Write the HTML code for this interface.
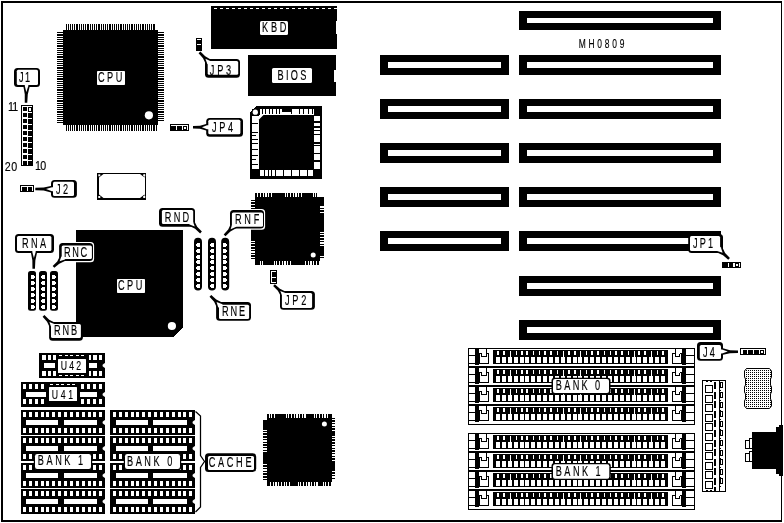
<!DOCTYPE html>
<html>
<head>
<meta charset="utf-8">
<title>MH0809 motherboard layout</title>
<style>
html, body { margin: 0; padding: 0; background: #fff; }
body { width: 784px; height: 523px; overflow: hidden; font-family: "Liberation Sans", sans-serif; }
svg { display: block; will-change: transform; }
svg text { font-family: "Liberation Sans", sans-serif; }
</style>
</head>
<body>
<svg width="784" height="523" viewBox="0 0 784 523" shape-rendering="crispEdges">
<rect x="0" y="0" width="784" height="523" fill="#fff"/>
<rect x="1" y="1" width="781" height="2" fill="#000"/>
<rect x="1" y="1" width="2" height="521" fill="#000"/>
<rect x="1" y="520" width="781" height="2" fill="#000"/>
<rect x="781" y="1" width="1" height="521" fill="#000"/>
<rect x="380" y="55" width="129" height="20" fill="#000"/>
<rect x="388" y="62" width="113" height="6" fill="#fff"/>
<rect x="380" y="99" width="129" height="20" fill="#000"/>
<rect x="388" y="106" width="113" height="6" fill="#fff"/>
<rect x="380" y="143" width="129" height="20" fill="#000"/>
<rect x="388" y="150" width="113" height="6" fill="#fff"/>
<rect x="380" y="187" width="129" height="20" fill="#000"/>
<rect x="388" y="194" width="113" height="6" fill="#fff"/>
<rect x="380" y="231" width="129" height="20" fill="#000"/>
<rect x="388" y="238" width="113" height="6" fill="#fff"/>
<rect x="519" y="11" width="202" height="19" fill="#000"/>
<rect x="527" y="18" width="186" height="5" fill="#fff"/>
<rect x="519" y="55" width="202" height="20" fill="#000"/>
<rect x="527" y="62" width="186" height="6" fill="#fff"/>
<rect x="519" y="99" width="202" height="20" fill="#000"/>
<rect x="527" y="106" width="186" height="6" fill="#fff"/>
<rect x="519" y="143" width="202" height="20" fill="#000"/>
<rect x="527" y="150" width="186" height="6" fill="#fff"/>
<rect x="519" y="187" width="202" height="20" fill="#000"/>
<rect x="527" y="194" width="186" height="6" fill="#fff"/>
<rect x="519" y="231" width="202" height="20" fill="#000"/>
<rect x="527" y="238" width="186" height="6" fill="#fff"/>
<rect x="519" y="276" width="202" height="20" fill="#000"/>
<rect x="527" y="283" width="186" height="6" fill="#fff"/>
<rect x="519" y="320" width="202" height="20" fill="#000"/>
<rect x="527" y="327" width="186" height="6" fill="#fff"/>
<text transform="translate(578.7,48) scale(0.66,1)" font-size="12.8" text-anchor="start" fill="#000" stroke="#000" stroke-width="0.15" textLength="69.39" lengthAdjust="spacing">MH0809</text>
<rect x="65.6" y="24" width="90" height="6" fill="#000"/>
<rect x="65.6" y="125" width="91" height="6" fill="#000"/>
<rect x="57" y="32.4" width="6" height="90.4" fill="#000"/>
<rect x="158" y="32.4" width="6" height="90" fill="#000"/>
<rect x="67" y="24" width="1" height="6" fill="#fff"/>
<rect x="69" y="24" width="1" height="6" fill="#fff"/>
<rect x="71" y="24" width="1" height="6" fill="#fff"/>
<rect x="73" y="24" width="1" height="6" fill="#fff"/>
<rect x="75" y="24" width="1" height="6" fill="#fff"/>
<rect x="78" y="24" width="1" height="6" fill="#fff"/>
<rect x="80" y="24" width="1" height="6" fill="#fff"/>
<rect x="82" y="24" width="1" height="6" fill="#fff"/>
<rect x="84" y="24" width="1" height="6" fill="#fff"/>
<rect x="86" y="24" width="1" height="6" fill="#fff"/>
<rect x="89" y="24" width="1" height="6" fill="#fff"/>
<rect x="91" y="24" width="1" height="6" fill="#fff"/>
<rect x="93" y="24" width="1" height="6" fill="#fff"/>
<rect x="95" y="24" width="1" height="6" fill="#fff"/>
<rect x="97" y="24" width="1" height="6" fill="#fff"/>
<rect x="100" y="24" width="1" height="6" fill="#fff"/>
<rect x="102" y="24" width="1" height="6" fill="#fff"/>
<rect x="104" y="24" width="1" height="6" fill="#fff"/>
<rect x="106" y="24" width="1" height="6" fill="#fff"/>
<rect x="108" y="24" width="1" height="6" fill="#fff"/>
<rect x="111" y="24" width="1" height="6" fill="#fff"/>
<rect x="113" y="24" width="1" height="6" fill="#fff"/>
<rect x="115" y="24" width="1" height="6" fill="#fff"/>
<rect x="117" y="24" width="1" height="6" fill="#fff"/>
<rect x="119" y="24" width="1" height="6" fill="#fff"/>
<rect x="122" y="24" width="1" height="6" fill="#fff"/>
<rect x="124" y="24" width="1" height="6" fill="#fff"/>
<rect x="126" y="24" width="1" height="6" fill="#fff"/>
<rect x="128" y="24" width="1" height="6" fill="#fff"/>
<rect x="130" y="24" width="1" height="6" fill="#fff"/>
<rect x="133" y="24" width="1" height="6" fill="#fff"/>
<rect x="135" y="24" width="1" height="6" fill="#fff"/>
<rect x="137" y="24" width="1" height="6" fill="#fff"/>
<rect x="139" y="24" width="1" height="6" fill="#fff"/>
<rect x="141" y="24" width="1" height="6" fill="#fff"/>
<rect x="144" y="24" width="1" height="6" fill="#fff"/>
<rect x="146" y="24" width="1" height="6" fill="#fff"/>
<rect x="148" y="24" width="1" height="6" fill="#fff"/>
<rect x="150" y="24" width="1" height="6" fill="#fff"/>
<rect x="152" y="24" width="1" height="6" fill="#fff"/>
<rect x="155" y="24" width="1" height="6" fill="#fff"/>
<rect x="67" y="125" width="1" height="6" fill="#fff"/>
<rect x="69" y="125" width="1" height="6" fill="#fff"/>
<rect x="71" y="125" width="1" height="6" fill="#fff"/>
<rect x="73" y="125" width="1" height="6" fill="#fff"/>
<rect x="75" y="125" width="1" height="6" fill="#fff"/>
<rect x="78" y="125" width="1" height="6" fill="#fff"/>
<rect x="80" y="125" width="1" height="6" fill="#fff"/>
<rect x="82" y="125" width="1" height="6" fill="#fff"/>
<rect x="84" y="125" width="1" height="6" fill="#fff"/>
<rect x="86" y="125" width="1" height="6" fill="#fff"/>
<rect x="89" y="125" width="1" height="6" fill="#fff"/>
<rect x="91" y="125" width="1" height="6" fill="#fff"/>
<rect x="93" y="125" width="1" height="6" fill="#fff"/>
<rect x="95" y="125" width="1" height="6" fill="#fff"/>
<rect x="97" y="125" width="1" height="6" fill="#fff"/>
<rect x="100" y="125" width="1" height="6" fill="#fff"/>
<rect x="102" y="125" width="1" height="6" fill="#fff"/>
<rect x="104" y="125" width="1" height="6" fill="#fff"/>
<rect x="106" y="125" width="1" height="6" fill="#fff"/>
<rect x="108" y="125" width="1" height="6" fill="#fff"/>
<rect x="111" y="125" width="1" height="6" fill="#fff"/>
<rect x="113" y="125" width="1" height="6" fill="#fff"/>
<rect x="115" y="125" width="1" height="6" fill="#fff"/>
<rect x="117" y="125" width="1" height="6" fill="#fff"/>
<rect x="119" y="125" width="1" height="6" fill="#fff"/>
<rect x="122" y="125" width="1" height="6" fill="#fff"/>
<rect x="124" y="125" width="1" height="6" fill="#fff"/>
<rect x="126" y="125" width="1" height="6" fill="#fff"/>
<rect x="128" y="125" width="1" height="6" fill="#fff"/>
<rect x="130" y="125" width="1" height="6" fill="#fff"/>
<rect x="133" y="125" width="1" height="6" fill="#fff"/>
<rect x="135" y="125" width="1" height="6" fill="#fff"/>
<rect x="137" y="125" width="1" height="6" fill="#fff"/>
<rect x="139" y="125" width="1" height="6" fill="#fff"/>
<rect x="141" y="125" width="1" height="6" fill="#fff"/>
<rect x="144" y="125" width="1" height="6" fill="#fff"/>
<rect x="146" y="125" width="1" height="6" fill="#fff"/>
<rect x="148" y="125" width="1" height="6" fill="#fff"/>
<rect x="150" y="125" width="1" height="6" fill="#fff"/>
<rect x="152" y="125" width="1" height="6" fill="#fff"/>
<rect x="155" y="125" width="1" height="6" fill="#fff"/>
<rect x="57" y="33" width="6" height="1" fill="#fff"/>
<rect x="57" y="36" width="6" height="1" fill="#fff"/>
<rect x="57" y="38" width="6" height="1" fill="#fff"/>
<rect x="57" y="40" width="6" height="1" fill="#fff"/>
<rect x="57" y="42" width="6" height="1" fill="#fff"/>
<rect x="57" y="44" width="6" height="1" fill="#fff"/>
<rect x="57" y="47" width="6" height="1" fill="#fff"/>
<rect x="57" y="49" width="6" height="1" fill="#fff"/>
<rect x="57" y="51" width="6" height="1" fill="#fff"/>
<rect x="57" y="53" width="6" height="1" fill="#fff"/>
<rect x="57" y="55" width="6" height="1" fill="#fff"/>
<rect x="57" y="58" width="6" height="1" fill="#fff"/>
<rect x="57" y="60" width="6" height="1" fill="#fff"/>
<rect x="57" y="62" width="6" height="1" fill="#fff"/>
<rect x="57" y="64" width="6" height="1" fill="#fff"/>
<rect x="57" y="66" width="6" height="1" fill="#fff"/>
<rect x="57" y="69" width="6" height="1" fill="#fff"/>
<rect x="57" y="71" width="6" height="1" fill="#fff"/>
<rect x="57" y="73" width="6" height="1" fill="#fff"/>
<rect x="57" y="75" width="6" height="1" fill="#fff"/>
<rect x="57" y="77" width="6" height="1" fill="#fff"/>
<rect x="57" y="80" width="6" height="1" fill="#fff"/>
<rect x="57" y="82" width="6" height="1" fill="#fff"/>
<rect x="57" y="84" width="6" height="1" fill="#fff"/>
<rect x="57" y="86" width="6" height="1" fill="#fff"/>
<rect x="57" y="88" width="6" height="1" fill="#fff"/>
<rect x="57" y="91" width="6" height="1" fill="#fff"/>
<rect x="57" y="93" width="6" height="1" fill="#fff"/>
<rect x="57" y="95" width="6" height="1" fill="#fff"/>
<rect x="57" y="97" width="6" height="1" fill="#fff"/>
<rect x="57" y="99" width="6" height="1" fill="#fff"/>
<rect x="57" y="102" width="6" height="1" fill="#fff"/>
<rect x="57" y="104" width="6" height="1" fill="#fff"/>
<rect x="57" y="106" width="6" height="1" fill="#fff"/>
<rect x="57" y="108" width="6" height="1" fill="#fff"/>
<rect x="57" y="110" width="6" height="1" fill="#fff"/>
<rect x="57" y="113" width="6" height="1" fill="#fff"/>
<rect x="57" y="115" width="6" height="1" fill="#fff"/>
<rect x="57" y="117" width="6" height="1" fill="#fff"/>
<rect x="57" y="119" width="6" height="1" fill="#fff"/>
<rect x="57" y="121" width="6" height="1" fill="#fff"/>
<rect x="158" y="33" width="6" height="1" fill="#fff"/>
<rect x="158" y="36" width="6" height="1" fill="#fff"/>
<rect x="158" y="38" width="6" height="1" fill="#fff"/>
<rect x="158" y="40" width="6" height="1" fill="#fff"/>
<rect x="158" y="42" width="6" height="1" fill="#fff"/>
<rect x="158" y="44" width="6" height="1" fill="#fff"/>
<rect x="158" y="47" width="6" height="1" fill="#fff"/>
<rect x="158" y="49" width="6" height="1" fill="#fff"/>
<rect x="158" y="51" width="6" height="1" fill="#fff"/>
<rect x="158" y="53" width="6" height="1" fill="#fff"/>
<rect x="158" y="55" width="6" height="1" fill="#fff"/>
<rect x="158" y="58" width="6" height="1" fill="#fff"/>
<rect x="158" y="60" width="6" height="1" fill="#fff"/>
<rect x="158" y="62" width="6" height="1" fill="#fff"/>
<rect x="158" y="64" width="6" height="1" fill="#fff"/>
<rect x="158" y="66" width="6" height="1" fill="#fff"/>
<rect x="158" y="69" width="6" height="1" fill="#fff"/>
<rect x="158" y="71" width="6" height="1" fill="#fff"/>
<rect x="158" y="73" width="6" height="1" fill="#fff"/>
<rect x="158" y="75" width="6" height="1" fill="#fff"/>
<rect x="158" y="77" width="6" height="1" fill="#fff"/>
<rect x="158" y="80" width="6" height="1" fill="#fff"/>
<rect x="158" y="82" width="6" height="1" fill="#fff"/>
<rect x="158" y="84" width="6" height="1" fill="#fff"/>
<rect x="158" y="86" width="6" height="1" fill="#fff"/>
<rect x="158" y="88" width="6" height="1" fill="#fff"/>
<rect x="158" y="91" width="6" height="1" fill="#fff"/>
<rect x="158" y="93" width="6" height="1" fill="#fff"/>
<rect x="158" y="95" width="6" height="1" fill="#fff"/>
<rect x="158" y="97" width="6" height="1" fill="#fff"/>
<rect x="158" y="99" width="6" height="1" fill="#fff"/>
<rect x="158" y="102" width="6" height="1" fill="#fff"/>
<rect x="158" y="104" width="6" height="1" fill="#fff"/>
<rect x="158" y="106" width="6" height="1" fill="#fff"/>
<rect x="158" y="108" width="6" height="1" fill="#fff"/>
<rect x="158" y="110" width="6" height="1" fill="#fff"/>
<rect x="158" y="113" width="6" height="1" fill="#fff"/>
<rect x="158" y="115" width="6" height="1" fill="#fff"/>
<rect x="158" y="117" width="6" height="1" fill="#fff"/>
<rect x="158" y="119" width="6" height="1" fill="#fff"/>
<rect x="158" y="121" width="6" height="1" fill="#fff"/>
<rect x="63" y="30" width="95" height="95" fill="#000"/>
<circle cx="148.9" cy="115.3" r="4.1" fill="#fff" shape-rendering="geometricPrecision"/>
<rect x="97" y="71" width="28" height="14" rx="0.8" fill="#fff" shape-rendering="geometricPrecision"/>
<text transform="translate(98,82) scale(0.66,1)" font-size="13.9" text-anchor="start" fill="#000" stroke="#000" stroke-width="0.15" textLength="36.82" lengthAdjust="spacing">CPU</text>
<polygon points="76,230 183,230 183,327.5 174,337 76,337" fill="#000"/>
<circle cx="171.9" cy="326" r="4.1" fill="#fff" shape-rendering="geometricPrecision"/>
<rect x="117" y="279" width="28" height="14" rx="0.8" fill="#fff" shape-rendering="geometricPrecision"/>
<text transform="translate(118,290) scale(0.66,1)" font-size="13.9" text-anchor="start" fill="#000" stroke="#000" stroke-width="0.15" textLength="36.82" lengthAdjust="spacing">CPU</text>
<rect x="211" y="6" width="126" height="43" fill="#000"/>
<rect x="214" y="8" width="3" height="1" fill="#fff"/>
<rect x="220" y="8" width="3" height="1" fill="#fff"/>
<rect x="226" y="8" width="3" height="1" fill="#fff"/>
<rect x="232" y="8" width="3" height="1" fill="#fff"/>
<rect x="238" y="8" width="3" height="1" fill="#fff"/>
<rect x="244" y="8" width="3" height="1" fill="#fff"/>
<rect x="250" y="8" width="3" height="1" fill="#fff"/>
<rect x="256" y="8" width="3" height="1" fill="#fff"/>
<rect x="262" y="8" width="3" height="1" fill="#fff"/>
<rect x="268" y="8" width="3" height="1" fill="#fff"/>
<rect x="274" y="8" width="3" height="1" fill="#fff"/>
<rect x="280" y="8" width="3" height="1" fill="#fff"/>
<rect x="286" y="8" width="3" height="1" fill="#fff"/>
<rect x="292" y="8" width="3" height="1" fill="#fff"/>
<rect x="298" y="8" width="3" height="1" fill="#fff"/>
<rect x="304" y="8" width="3" height="1" fill="#fff"/>
<rect x="310" y="8" width="3" height="1" fill="#fff"/>
<rect x="316" y="8" width="3" height="1" fill="#fff"/>
<rect x="322" y="8" width="3" height="1" fill="#fff"/>
<rect x="328" y="8" width="3" height="1" fill="#fff"/>
<rect x="334" y="8" width="3" height="1" fill="#fff"/>
<rect x="336" y="21" width="1" height="13" fill="#fff"/>
<rect x="260" y="21" width="28" height="14" rx="1.5" fill="#fff" shape-rendering="geometricPrecision"/>
<text transform="translate(262,32) scale(0.66,1)" font-size="13.9" text-anchor="start" fill="#000" stroke="#000" stroke-width="0.15" textLength="36.97" lengthAdjust="spacing">KBD</text>
<rect x="248" y="55" width="88" height="41" fill="#000"/>
<rect x="334" y="70" width="2" height="12" fill="#fff"/>
<rect x="272" y="68" width="40" height="15" rx="1.5" fill="#fff" shape-rendering="geometricPrecision"/>
<text transform="translate(277.6,80) scale(0.66,1)" font-size="13.9" text-anchor="start" fill="#000" stroke="#000" stroke-width="0.15" textLength="43.64" lengthAdjust="spacing">BIOS</text>
<polygon points="256,106 322,106 322,179 250,179 250,112" fill="#000"/>
<rect x="260" y="109" width="54" height="6" fill="#fff"/>
<rect x="260" y="170" width="53" height="6" fill="#fff"/>
<rect x="252" y="116" width="7" height="53" fill="#fff"/>
<rect x="314" y="116" width="6" height="53" fill="#fff"/>
<rect x="261.5" y="109" width="1" height="4.5" fill="#000"/>
<rect x="265" y="109" width="1" height="4.5" fill="#000"/>
<rect x="268.5" y="109" width="1" height="4.5" fill="#000"/>
<rect x="272" y="109" width="1" height="4.5" fill="#000"/>
<rect x="275.5" y="109" width="1" height="4.5" fill="#000"/>
<rect x="279" y="109" width="1" height="4.5" fill="#000"/>
<rect x="291" y="109" width="1" height="4.5" fill="#000"/>
<rect x="299" y="109" width="1" height="4.5" fill="#000"/>
<rect x="303" y="109" width="1" height="4.5" fill="#000"/>
<rect x="307.5" y="109" width="1" height="4.5" fill="#000"/>
<rect x="311.5" y="109" width="1" height="4.5" fill="#000"/>
<rect x="282" y="109" width="10" height="2.5" fill="#000"/>
<rect x="291" y="112" width="1" height="1.5" fill="#000"/>
<rect x="264" y="170" width="1" height="6" fill="#000"/>
<rect x="268" y="170" width="1" height="6" fill="#000"/>
<rect x="271" y="170" width="1" height="6" fill="#000"/>
<rect x="275" y="170" width="1" height="6" fill="#000"/>
<rect x="283" y="170" width="1" height="6" fill="#000"/>
<rect x="291" y="170" width="1" height="6" fill="#000"/>
<rect x="299" y="170" width="1" height="6" fill="#000"/>
<rect x="307" y="170" width="1" height="6" fill="#000"/>
<rect x="252" y="123" width="6" height="1" fill="#000"/>
<rect x="252" y="131.5" width="6" height="1" fill="#000"/>
<rect x="252" y="134.5" width="3.5" height="1" fill="#000"/>
<rect x="252" y="139" width="6" height="1" fill="#000"/>
<rect x="252" y="143" width="6" height="1" fill="#000"/>
<rect x="252" y="149" width="6" height="1" fill="#000"/>
<rect x="252" y="155" width="6" height="1" fill="#000"/>
<rect x="252" y="159" width="4" height="1" fill="#000"/>
<rect x="252" y="164" width="6" height="1" fill="#000"/>
<rect x="314" y="121" width="6" height="1.5" fill="#000"/>
<rect x="314" y="126" width="6" height="1.5" fill="#000"/>
<rect x="314" y="129.5" width="6" height="1" fill="#000"/>
<rect x="314" y="134" width="6" height="1" fill="#000"/>
<rect x="314" y="142" width="6" height="1.5" fill="#000"/>
<rect x="314" y="145" width="6" height="1" fill="#000"/>
<rect x="314" y="153" width="6" height="1" fill="#000"/>
<rect x="314" y="160" width="6" height="1.5" fill="#000"/>
<polygon points="259,115 265,115 259,121" fill="#fff"/>
<polygon points="259,119.5 263.5,115 314,115 314,170 259,170" fill="#000" shape-rendering="geometricPrecision"/>
<rect x="252" y="109" width="7" height="7" fill="#000"/>
<circle cx="255.3" cy="112.2" r="2.6" fill="#fff" shape-rendering="geometricPrecision"/>
<rect x="251" y="193" width="73" height="72" fill="#000"/>
<rect x="251" y="193" width="4" height="4" fill="#fff"/>
<rect x="320" y="193" width="4" height="4" fill="#fff"/>
<rect x="251" y="261" width="4" height="4" fill="#fff"/>
<rect x="320" y="261" width="4" height="4" fill="#fff"/>
<rect x="251" y="197" width="4" height="2.5" fill="#fff"/>
<rect x="251" y="259" width="4" height="2" fill="#fff"/>
<rect x="320" y="259" width="4" height="2" fill="#fff"/>
<rect x="257.2" y="193" width="1.2" height="4" fill="#fff"/>
<rect x="259.9" y="193" width="1.2" height="4" fill="#fff"/>
<rect x="262.6" y="193" width="1.2" height="4" fill="#fff"/>
<rect x="265.3" y="193" width="1.2" height="4" fill="#fff"/>
<rect x="268" y="193" width="1.2" height="4" fill="#fff"/>
<rect x="270.7" y="193" width="1.2" height="4" fill="#fff"/>
<rect x="284.5" y="193" width="1.2" height="4" fill="#fff"/>
<rect x="287.2" y="193" width="1.2" height="4" fill="#fff"/>
<rect x="289.9" y="193" width="1.2" height="4" fill="#fff"/>
<rect x="292.6" y="193" width="1.2" height="4" fill="#fff"/>
<rect x="295.3" y="193" width="1.2" height="4" fill="#fff"/>
<rect x="298" y="193" width="1.2" height="4" fill="#fff"/>
<rect x="300.7" y="193" width="1.2" height="4" fill="#fff"/>
<rect x="312.5" y="193" width="1.2" height="4" fill="#fff"/>
<rect x="315.2" y="193" width="1.2" height="4" fill="#fff"/>
<rect x="259.5" y="261" width="1.2" height="4" fill="#fff"/>
<rect x="262.2" y="261" width="1.2" height="4" fill="#fff"/>
<rect x="273.5" y="261" width="1.2" height="4" fill="#fff"/>
<rect x="276.2" y="261" width="1.2" height="4" fill="#fff"/>
<rect x="278.9" y="261" width="1.2" height="4" fill="#fff"/>
<rect x="281.6" y="261" width="1.2" height="4" fill="#fff"/>
<rect x="284.3" y="261" width="1.2" height="4" fill="#fff"/>
<rect x="287" y="261" width="1.2" height="4" fill="#fff"/>
<rect x="289.7" y="261" width="1.2" height="4" fill="#fff"/>
<rect x="305" y="261" width="1.2" height="4" fill="#fff"/>
<rect x="307.7" y="261" width="1.2" height="4" fill="#fff"/>
<rect x="310.4" y="261" width="1.2" height="4" fill="#fff"/>
<rect x="313.1" y="261" width="1.2" height="4" fill="#fff"/>
<rect x="315.8" y="261" width="1.2" height="4" fill="#fff"/>
<rect x="318.5" y="261" width="1.2" height="4" fill="#fff"/>
<rect x="251" y="201.2" width="4" height="1.2" fill="#fff"/>
<rect x="251" y="203.9" width="4" height="1.2" fill="#fff"/>
<rect x="251" y="206.6" width="4" height="1.2" fill="#fff"/>
<rect x="251" y="209.3" width="4" height="1.2" fill="#fff"/>
<rect x="251" y="240.5" width="4" height="1.2" fill="#fff"/>
<rect x="251" y="243.2" width="4" height="1.2" fill="#fff"/>
<rect x="251" y="245.9" width="4" height="1.2" fill="#fff"/>
<rect x="251" y="248.6" width="4" height="1.2" fill="#fff"/>
<rect x="251" y="251.3" width="4" height="1.2" fill="#fff"/>
<rect x="251" y="254" width="4" height="1.2" fill="#fff"/>
<rect x="251" y="256.7" width="4" height="1.2" fill="#fff"/>
<rect x="320" y="206.3" width="4" height="1.2" fill="#fff"/>
<rect x="320" y="209" width="4" height="1.2" fill="#fff"/>
<rect x="320" y="211.7" width="4" height="1.2" fill="#fff"/>
<rect x="320" y="231.5" width="4" height="1.2" fill="#fff"/>
<rect x="320" y="234.2" width="4" height="1.2" fill="#fff"/>
<rect x="320" y="236.9" width="4" height="1.2" fill="#fff"/>
<rect x="320" y="239.6" width="4" height="1.2" fill="#fff"/>
<rect x="320" y="242.3" width="4" height="1.2" fill="#fff"/>
<rect x="320" y="245" width="4" height="1.2" fill="#fff"/>
<rect x="320" y="255.5" width="4" height="1.2" fill="#fff"/>
<rect x="320" y="258.2" width="4" height="1.2" fill="#fff"/>
<circle cx="313.2" cy="255" r="2.5" fill="#fff" shape-rendering="geometricPrecision"/>
<rect x="316.5" y="193" width="3.5" height="4" fill="#fff"/>
<rect x="263" y="414" width="72.4" height="71.6" fill="#000"/>
<rect x="263" y="414" width="3.6" height="3.6" fill="#fff"/>
<rect x="331.8" y="414" width="3.6" height="3.6" fill="#fff"/>
<rect x="263" y="482" width="3.6" height="3.6" fill="#fff"/>
<rect x="331.8" y="482" width="3.6" height="3.6" fill="#fff"/>
<rect x="263" y="417.6" width="3.6" height="2.5" fill="#fff"/>
<rect x="263" y="480" width="3.6" height="2" fill="#fff"/>
<rect x="331.8" y="480" width="3.6" height="2" fill="#fff"/>
<rect x="268.5" y="414" width="1.2" height="3.6" fill="#fff"/>
<rect x="271.2" y="414" width="1.2" height="3.6" fill="#fff"/>
<rect x="273.9" y="414" width="1.2" height="3.6" fill="#fff"/>
<rect x="285.5" y="414" width="1.2" height="3.6" fill="#fff"/>
<rect x="288.2" y="414" width="1.2" height="3.6" fill="#fff"/>
<rect x="290.9" y="414" width="1.2" height="3.6" fill="#fff"/>
<rect x="293.6" y="414" width="1.2" height="3.6" fill="#fff"/>
<rect x="296.3" y="414" width="1.2" height="3.6" fill="#fff"/>
<rect x="299" y="414" width="1.2" height="3.6" fill="#fff"/>
<rect x="301.7" y="414" width="1.2" height="3.6" fill="#fff"/>
<rect x="304.4" y="414" width="1.2" height="3.6" fill="#fff"/>
<rect x="313.5" y="414" width="1.2" height="3.6" fill="#fff"/>
<rect x="316.2" y="414" width="1.2" height="3.6" fill="#fff"/>
<rect x="318.9" y="414" width="1.2" height="3.6" fill="#fff"/>
<rect x="321.6" y="414" width="1.2" height="3.6" fill="#fff"/>
<rect x="324.3" y="414" width="1.2" height="3.6" fill="#fff"/>
<rect x="327" y="414" width="1.2" height="3.6" fill="#fff"/>
<rect x="270" y="482" width="1.2" height="3.6" fill="#fff"/>
<rect x="272.7" y="482" width="1.2" height="3.6" fill="#fff"/>
<rect x="275.4" y="482" width="1.2" height="3.6" fill="#fff"/>
<rect x="278.1" y="482" width="1.2" height="3.6" fill="#fff"/>
<rect x="280.8" y="482" width="1.2" height="3.6" fill="#fff"/>
<rect x="283.5" y="482" width="1.2" height="3.6" fill="#fff"/>
<rect x="286.2" y="482" width="1.2" height="3.6" fill="#fff"/>
<rect x="288.9" y="482" width="1.2" height="3.6" fill="#fff"/>
<rect x="297.5" y="482" width="1.2" height="3.6" fill="#fff"/>
<rect x="300.2" y="482" width="1.2" height="3.6" fill="#fff"/>
<rect x="302.9" y="482" width="1.2" height="3.6" fill="#fff"/>
<rect x="305.6" y="482" width="1.2" height="3.6" fill="#fff"/>
<rect x="308.3" y="482" width="1.2" height="3.6" fill="#fff"/>
<rect x="311" y="482" width="1.2" height="3.6" fill="#fff"/>
<rect x="313.7" y="482" width="1.2" height="3.6" fill="#fff"/>
<rect x="316.4" y="482" width="1.2" height="3.6" fill="#fff"/>
<rect x="322.5" y="482" width="1.2" height="3.6" fill="#fff"/>
<rect x="325.2" y="482" width="1.2" height="3.6" fill="#fff"/>
<rect x="327.9" y="482" width="1.2" height="3.6" fill="#fff"/>
<rect x="330.6" y="482" width="1.2" height="3.6" fill="#fff"/>
<rect x="263" y="429.5" width="3.6" height="1.2" fill="#fff"/>
<rect x="263" y="432.2" width="3.6" height="1.2" fill="#fff"/>
<rect x="263" y="434.9" width="3.6" height="1.2" fill="#fff"/>
<rect x="263" y="437.6" width="3.6" height="1.2" fill="#fff"/>
<rect x="263" y="440.3" width="3.6" height="1.2" fill="#fff"/>
<rect x="263" y="443" width="3.6" height="1.2" fill="#fff"/>
<rect x="263" y="445.7" width="3.6" height="1.2" fill="#fff"/>
<rect x="263" y="448.4" width="3.6" height="1.2" fill="#fff"/>
<rect x="263" y="451.1" width="3.6" height="1.2" fill="#fff"/>
<rect x="263" y="464" width="3.6" height="1.2" fill="#fff"/>
<rect x="263" y="466.7" width="3.6" height="1.2" fill="#fff"/>
<rect x="263" y="469.4" width="3.6" height="1.2" fill="#fff"/>
<rect x="263" y="472.1" width="3.6" height="1.2" fill="#fff"/>
<rect x="263" y="474.8" width="3.6" height="1.2" fill="#fff"/>
<rect x="263" y="477.5" width="3.6" height="1.2" fill="#fff"/>
<rect x="331.8" y="419" width="3.6" height="1.2" fill="#fff"/>
<rect x="331.8" y="421.7" width="3.6" height="1.2" fill="#fff"/>
<rect x="331.8" y="424.4" width="3.6" height="1.2" fill="#fff"/>
<rect x="331.8" y="427.1" width="3.6" height="1.2" fill="#fff"/>
<rect x="331.8" y="429.8" width="3.6" height="1.2" fill="#fff"/>
<rect x="331.8" y="435.5" width="3.6" height="1.2" fill="#fff"/>
<rect x="331.8" y="438.2" width="3.6" height="1.2" fill="#fff"/>
<rect x="331.8" y="440.9" width="3.6" height="1.2" fill="#fff"/>
<rect x="331.8" y="443.6" width="3.6" height="1.2" fill="#fff"/>
<rect x="331.8" y="446.3" width="3.6" height="1.2" fill="#fff"/>
<rect x="331.8" y="449" width="3.6" height="1.2" fill="#fff"/>
<rect x="331.8" y="451.7" width="3.6" height="1.2" fill="#fff"/>
<rect x="331.8" y="454.4" width="3.6" height="1.2" fill="#fff"/>
<rect x="331.8" y="457.1" width="3.6" height="1.2" fill="#fff"/>
<rect x="331.8" y="459.8" width="3.6" height="1.2" fill="#fff"/>
<rect x="331.8" y="471" width="3.6" height="1.2" fill="#fff"/>
<rect x="331.8" y="473.7" width="3.6" height="1.2" fill="#fff"/>
<rect x="331.8" y="476.4" width="3.6" height="1.2" fill="#fff"/>
<rect x="331.8" y="479.1" width="3.6" height="1.2" fill="#fff"/>
<circle cx="324.4" cy="424" r="2.5" fill="#fff" shape-rendering="geometricPrecision"/>
<rect x="97" y="173" width="49" height="27" fill="#000"/>
<rect x="99" y="174" width="45.5" height="24" fill="#fff"/>
<polygon points="99,174 103.5,174 99,177.5" fill="#000" shape-rendering="geometricPrecision"/>
<polygon points="144.5,174 140,174 144.5,177.5" fill="#000" shape-rendering="geometricPrecision"/>
<polygon points="99,198 103.5,198 99,194.5" fill="#000" shape-rendering="geometricPrecision"/>
<polygon points="144.5,198 140,198 144.5,194.5" fill="#000" shape-rendering="geometricPrecision"/>
<rect x="98.3" y="174.3" width="2" height="2" fill="#fff" shape-rendering="geometricPrecision"/>
<rect x="143.2" y="174.3" width="2" height="2" fill="#fff" shape-rendering="geometricPrecision"/>
<rect x="98.3" y="196" width="2" height="2" fill="#fff" shape-rendering="geometricPrecision"/>
<rect x="143.2" y="196" width="2" height="2" fill="#fff" shape-rendering="geometricPrecision"/>
<rect x="21" y="105" width="12" height="61" fill="#000"/>
<rect x="22" y="106" width="6" height="59" fill="#fff"/>
<rect x="28" y="106" width="4" height="1" fill="#fff"/>
<rect x="23" y="107" width="4" height="4" fill="#000"/>
<rect x="28" y="112" width="4" height="1" fill="#fff"/>
<rect x="23" y="113" width="4" height="4" fill="#000"/>
<rect x="28" y="118" width="4" height="1" fill="#fff"/>
<rect x="23" y="119" width="4" height="4" fill="#000"/>
<rect x="28" y="124" width="4" height="1" fill="#fff"/>
<rect x="23" y="125" width="4" height="4" fill="#000"/>
<rect x="28" y="130" width="4" height="1" fill="#fff"/>
<rect x="23" y="131" width="4" height="4" fill="#000"/>
<rect x="28" y="136" width="4" height="1" fill="#fff"/>
<rect x="23" y="137" width="4" height="4" fill="#000"/>
<rect x="28" y="142" width="4" height="1" fill="#fff"/>
<rect x="23" y="143" width="4" height="4" fill="#000"/>
<rect x="28" y="148" width="4" height="1" fill="#fff"/>
<rect x="23" y="149" width="4" height="4" fill="#000"/>
<rect x="28" y="154" width="4" height="1" fill="#fff"/>
<rect x="23" y="155" width="4" height="4" fill="#000"/>
<rect x="28" y="160" width="4" height="1" fill="#fff"/>
<rect x="23" y="161" width="4" height="4" fill="#000"/>
<rect x="29" y="108" width="2" height="3" fill="#fff"/>
<text transform="translate(7.9,111) scale(0.85,1)" font-size="12.6" text-anchor="start" fill="#000" stroke="#000" stroke-width="0.15" textLength="12.12" lengthAdjust="spacing">11</text>
<text transform="translate(4.8,171) scale(0.85,1)" font-size="12.6" text-anchor="start" fill="#000" stroke="#000" stroke-width="0.15" textLength="14.59" lengthAdjust="spacing">20</text>
<text transform="translate(35,170) scale(0.85,1)" font-size="12.6" text-anchor="start" fill="#000" stroke="#000" stroke-width="0.15" textLength="13.29" lengthAdjust="spacing">10</text>
<rect x="20" y="185" width="14" height="7" fill="#000"/>
<rect x="21" y="186" width="12" height="5" fill="#fff"/>
<rect x="22" y="187" width="5" height="5" fill="#000"/>
<rect x="28" y="187" width="4" height="5" fill="#000"/>
<rect x="170" y="124" width="19" height="7" fill="#000"/>
<rect x="171" y="125" width="17" height="1" fill="#fff"/>
<rect x="176" y="125" width="1" height="5" fill="#fff"/>
<rect x="182" y="125" width="1" height="5" fill="#fff"/>
<rect x="187" y="125" width="1" height="5" fill="#fff"/>
<rect x="184" y="127" width="2" height="2" fill="#fff"/>
<rect x="196" y="38" width="6" height="13" fill="#000"/>
<rect x="197" y="39" width="4" height="1" fill="#fff"/>
<rect x="197" y="44" width="4" height="1" fill="#fff"/>
<rect x="270" y="270" width="7" height="14" fill="#000"/>
<rect x="271" y="271" width="5" height="12" fill="#fff"/>
<rect x="272" y="272" width="5" height="5" fill="#000"/>
<rect x="272" y="278" width="5" height="4" fill="#000"/>
<rect x="722" y="262" width="19" height="6" fill="#000"/>
<rect x="728" y="263" width="1" height="4" fill="#fff"/>
<rect x="733" y="263" width="2" height="4" fill="#fff"/>
<rect x="736" y="264" width="2" height="2" fill="#fff"/>
<rect x="739" y="263" width="1" height="4" fill="#fff"/>
<rect x="740" y="348" width="26" height="7" fill="#000"/>
<rect x="741" y="349" width="24" height="5" fill="#fff"/>
<rect x="743" y="350" width="4" height="5" fill="#000"/>
<rect x="748" y="350" width="5" height="5" fill="#000"/>
<rect x="754" y="350" width="5" height="5" fill="#000"/>
<rect x="760" y="350" width="4" height="5" fill="#000"/>
<rect x="761" y="351" width="2" height="2" fill="#fff"/>
<rect x="28" y="271" width="8" height="39.7" rx="2.5" fill="#000" shape-rendering="geometricPrecision"/>
<rect x="31" y="275" width="4" height="4" fill="#fff"/>
<rect x="34" y="275" width="1" height="1" fill="#000"/>
<rect x="34" y="278" width="1" height="1" fill="#000"/>
<rect x="31" y="281" width="4" height="4" fill="#fff"/>
<rect x="34" y="281" width="1" height="1" fill="#000"/>
<rect x="34" y="284" width="1" height="1" fill="#000"/>
<rect x="31" y="287" width="4" height="4" fill="#fff"/>
<rect x="34" y="287" width="1" height="1" fill="#000"/>
<rect x="34" y="290" width="1" height="1" fill="#000"/>
<rect x="31" y="293" width="4" height="4" fill="#fff"/>
<rect x="34" y="293" width="1" height="1" fill="#000"/>
<rect x="34" y="296" width="1" height="1" fill="#000"/>
<rect x="31" y="299" width="4" height="4" fill="#fff"/>
<rect x="34" y="299" width="1" height="1" fill="#000"/>
<rect x="34" y="302" width="1" height="1" fill="#000"/>
<rect x="31" y="305" width="4" height="4" fill="#fff"/>
<rect x="34" y="305" width="1" height="1" fill="#000"/>
<rect x="34" y="308" width="1" height="1" fill="#000"/>
<rect x="39" y="271" width="8" height="39.7" rx="2.5" fill="#000" shape-rendering="geometricPrecision"/>
<rect x="41" y="275" width="4" height="4" fill="#fff"/>
<rect x="41" y="275" width="1" height="1" fill="#000"/>
<rect x="41" y="278" width="1" height="1" fill="#000"/>
<rect x="41" y="281" width="4" height="4" fill="#fff"/>
<rect x="41" y="281" width="1" height="1" fill="#000"/>
<rect x="41" y="284" width="1" height="1" fill="#000"/>
<rect x="41" y="287" width="4" height="4" fill="#fff"/>
<rect x="41" y="287" width="1" height="1" fill="#000"/>
<rect x="41" y="290" width="1" height="1" fill="#000"/>
<rect x="41" y="293" width="4" height="4" fill="#fff"/>
<rect x="41" y="293" width="1" height="1" fill="#000"/>
<rect x="41" y="296" width="1" height="1" fill="#000"/>
<rect x="41" y="299" width="4" height="4" fill="#fff"/>
<rect x="41" y="299" width="1" height="1" fill="#000"/>
<rect x="41" y="302" width="1" height="1" fill="#000"/>
<rect x="41" y="305" width="4" height="4" fill="#fff"/>
<rect x="41" y="305" width="1" height="1" fill="#000"/>
<rect x="41" y="308" width="1" height="1" fill="#000"/>
<rect x="50" y="271" width="8" height="39.7" rx="2.5" fill="#000" shape-rendering="geometricPrecision"/>
<rect x="52" y="275" width="4" height="4" fill="#fff"/>
<rect x="55" y="275" width="1" height="1" fill="#000"/>
<rect x="55" y="278" width="1" height="1" fill="#000"/>
<rect x="52" y="281" width="4" height="4" fill="#fff"/>
<rect x="55" y="281" width="1" height="1" fill="#000"/>
<rect x="55" y="284" width="1" height="1" fill="#000"/>
<rect x="52" y="287" width="4" height="4" fill="#fff"/>
<rect x="55" y="287" width="1" height="1" fill="#000"/>
<rect x="55" y="290" width="1" height="1" fill="#000"/>
<rect x="52" y="293" width="4" height="4" fill="#fff"/>
<rect x="55" y="293" width="1" height="1" fill="#000"/>
<rect x="55" y="296" width="1" height="1" fill="#000"/>
<rect x="52" y="299" width="4" height="4" fill="#fff"/>
<rect x="55" y="299" width="1" height="1" fill="#000"/>
<rect x="55" y="302" width="1" height="1" fill="#000"/>
<rect x="52" y="305" width="4" height="4" fill="#fff"/>
<rect x="55" y="305" width="1" height="1" fill="#000"/>
<rect x="55" y="308" width="1" height="1" fill="#000"/>
<rect x="194" y="237.8" width="8" height="52.8" rx="4" fill="#000" shape-rendering="geometricPrecision"/>
<rect x="196" y="243" width="4" height="4" fill="#fff"/>
<rect x="196" y="243" width="1" height="1" fill="#000"/>
<rect x="196" y="246" width="1" height="1" fill="#000"/>
<rect x="196" y="249" width="4" height="4" fill="#fff"/>
<rect x="196" y="249" width="1" height="1" fill="#000"/>
<rect x="196" y="252" width="1" height="1" fill="#000"/>
<rect x="196" y="255" width="4" height="4" fill="#fff"/>
<rect x="196" y="255" width="1" height="1" fill="#000"/>
<rect x="196" y="258" width="1" height="1" fill="#000"/>
<rect x="196" y="260" width="4" height="4" fill="#fff"/>
<rect x="196" y="260" width="1" height="1" fill="#000"/>
<rect x="196" y="263" width="1" height="1" fill="#000"/>
<rect x="196" y="266" width="4" height="4" fill="#fff"/>
<rect x="196" y="266" width="1" height="1" fill="#000"/>
<rect x="196" y="269" width="1" height="1" fill="#000"/>
<rect x="196" y="272" width="4" height="4" fill="#fff"/>
<rect x="196" y="272" width="1" height="1" fill="#000"/>
<rect x="196" y="275" width="1" height="1" fill="#000"/>
<rect x="196" y="278" width="4" height="4" fill="#fff"/>
<rect x="196" y="278" width="1" height="1" fill="#000"/>
<rect x="196" y="281" width="1" height="1" fill="#000"/>
<rect x="196" y="284" width="4" height="4" fill="#fff"/>
<rect x="196" y="284" width="1" height="1" fill="#000"/>
<rect x="196" y="287" width="1" height="1" fill="#000"/>
<rect x="208" y="237.8" width="8" height="52.8" rx="4" fill="#000" shape-rendering="geometricPrecision"/>
<rect x="210" y="243" width="4" height="4" fill="#fff"/>
<rect x="210" y="243" width="1" height="1" fill="#000"/>
<rect x="210" y="246" width="1" height="1" fill="#000"/>
<rect x="210" y="249" width="4" height="4" fill="#fff"/>
<rect x="210" y="249" width="1" height="1" fill="#000"/>
<rect x="210" y="252" width="1" height="1" fill="#000"/>
<rect x="210" y="255" width="4" height="4" fill="#fff"/>
<rect x="210" y="255" width="1" height="1" fill="#000"/>
<rect x="210" y="258" width="1" height="1" fill="#000"/>
<rect x="210" y="260" width="4" height="4" fill="#fff"/>
<rect x="210" y="260" width="1" height="1" fill="#000"/>
<rect x="210" y="263" width="1" height="1" fill="#000"/>
<rect x="210" y="266" width="4" height="4" fill="#fff"/>
<rect x="210" y="266" width="1" height="1" fill="#000"/>
<rect x="210" y="269" width="1" height="1" fill="#000"/>
<rect x="210" y="272" width="4" height="4" fill="#fff"/>
<rect x="210" y="272" width="1" height="1" fill="#000"/>
<rect x="210" y="275" width="1" height="1" fill="#000"/>
<rect x="210" y="278" width="4" height="4" fill="#fff"/>
<rect x="210" y="278" width="1" height="1" fill="#000"/>
<rect x="210" y="281" width="1" height="1" fill="#000"/>
<rect x="210" y="284" width="4" height="4" fill="#fff"/>
<rect x="210" y="284" width="1" height="1" fill="#000"/>
<rect x="210" y="287" width="1" height="1" fill="#000"/>
<rect x="221.2" y="237.8" width="8" height="52.8" rx="4" fill="#000" shape-rendering="geometricPrecision"/>
<rect x="223.2" y="243" width="4" height="4" fill="#fff"/>
<rect x="226.2" y="243" width="1" height="1" fill="#000"/>
<rect x="226.2" y="246" width="1" height="1" fill="#000"/>
<rect x="223.2" y="249" width="4" height="4" fill="#fff"/>
<rect x="226.2" y="249" width="1" height="1" fill="#000"/>
<rect x="226.2" y="252" width="1" height="1" fill="#000"/>
<rect x="223.2" y="255" width="4" height="4" fill="#fff"/>
<rect x="226.2" y="255" width="1" height="1" fill="#000"/>
<rect x="226.2" y="258" width="1" height="1" fill="#000"/>
<rect x="223.2" y="260" width="4" height="4" fill="#fff"/>
<rect x="226.2" y="260" width="1" height="1" fill="#000"/>
<rect x="226.2" y="263" width="1" height="1" fill="#000"/>
<rect x="223.2" y="266" width="4" height="4" fill="#fff"/>
<rect x="226.2" y="266" width="1" height="1" fill="#000"/>
<rect x="226.2" y="269" width="1" height="1" fill="#000"/>
<rect x="223.2" y="272" width="4" height="4" fill="#fff"/>
<rect x="226.2" y="272" width="1" height="1" fill="#000"/>
<rect x="226.2" y="275" width="1" height="1" fill="#000"/>
<rect x="223.2" y="278" width="4" height="4" fill="#fff"/>
<rect x="226.2" y="278" width="1" height="1" fill="#000"/>
<rect x="226.2" y="281" width="1" height="1" fill="#000"/>
<rect x="223.2" y="284" width="4" height="4" fill="#fff"/>
<rect x="226.2" y="284" width="1" height="1" fill="#000"/>
<rect x="226.2" y="287" width="1" height="1" fill="#000"/>
<rect x="39" y="353" width="66" height="25" fill="#000"/>
<rect x="44" y="363" width="11" height="5" fill="#fff"/>
<rect x="89" y="363" width="8" height="5" fill="#fff"/>
<polygon points="105,363 103.8,363.8 102.6,364.8 102.6,366.2 103.8,367.2 105,368" fill="#fff" shape-rendering="geometricPrecision"/>
<rect x="42" y="355" width="3.5" height="5" fill="#fff"/>
<rect x="42" y="371" width="3.5" height="5" fill="#fff"/>
<rect x="47.5" y="355" width="3.5" height="5" fill="#fff"/>
<rect x="47.5" y="371" width="3.5" height="5" fill="#fff"/>
<rect x="53" y="355" width="2.5" height="5" fill="#fff"/>
<rect x="53" y="371" width="2.5" height="5" fill="#fff"/>
<rect x="88.5" y="355" width="2" height="5" fill="#fff"/>
<rect x="88.5" y="371" width="2" height="5" fill="#fff"/>
<rect x="93" y="355" width="3.5" height="5" fill="#fff"/>
<rect x="93" y="371" width="3.5" height="5" fill="#fff"/>
<rect x="99" y="355" width="3" height="5" fill="#fff"/>
<rect x="99" y="371" width="3" height="5" fill="#fff"/>
<rect x="59" y="355" width="3" height="1" fill="#fff"/>
<rect x="59" y="375" width="3" height="1" fill="#fff"/>
<rect x="64.5" y="355" width="3" height="1" fill="#fff"/>
<rect x="64.5" y="375" width="3" height="1" fill="#fff"/>
<rect x="70" y="355" width="3" height="1" fill="#fff"/>
<rect x="70" y="375" width="3" height="1" fill="#fff"/>
<rect x="75.5" y="355" width="3" height="1" fill="#fff"/>
<rect x="75.5" y="375" width="3" height="1" fill="#fff"/>
<rect x="81" y="355" width="3" height="1" fill="#fff"/>
<rect x="81" y="375" width="3" height="1" fill="#fff"/>
<rect x="58" y="359" width="28" height="14" rx="0.5" fill="#fff" shape-rendering="geometricPrecision"/>
<text transform="translate(60.8,370) scale(0.66,1)" font-size="13.2" text-anchor="start" fill="#000" stroke="#000" stroke-width="0.15" textLength="30.76" lengthAdjust="spacing">U42</text>
<rect x="21" y="382" width="84" height="25" fill="#000"/>
<rect x="26" y="392" width="20" height="5" fill="#fff"/>
<rect x="80" y="392" width="17" height="5" fill="#fff"/>
<polygon points="105,392 103.8,392.8 102.6,393.8 102.6,395.2 103.8,396.2 105,397" fill="#fff" shape-rendering="geometricPrecision"/>
<rect x="23" y="384" width="3.3" height="5" fill="#fff"/>
<rect x="23" y="399" width="3.3" height="5" fill="#fff"/>
<rect x="29" y="384" width="3.3" height="5" fill="#fff"/>
<rect x="29" y="399" width="3.3" height="5" fill="#fff"/>
<rect x="35" y="384" width="3.3" height="5" fill="#fff"/>
<rect x="35" y="399" width="3.3" height="5" fill="#fff"/>
<rect x="41" y="384" width="3.3" height="5" fill="#fff"/>
<rect x="41" y="399" width="3.3" height="5" fill="#fff"/>
<rect x="81" y="384" width="3.3" height="5" fill="#fff"/>
<rect x="81" y="399" width="3.3" height="5" fill="#fff"/>
<rect x="87" y="384" width="3.3" height="5" fill="#fff"/>
<rect x="87" y="399" width="3.3" height="5" fill="#fff"/>
<rect x="93" y="384" width="3.3" height="5" fill="#fff"/>
<rect x="93" y="399" width="3.3" height="5" fill="#fff"/>
<rect x="99" y="384" width="3.3" height="5" fill="#fff"/>
<rect x="99" y="399" width="3.3" height="5" fill="#fff"/>
<rect x="50" y="384" width="3" height="1" fill="#fff"/>
<rect x="55.5" y="384" width="3" height="1" fill="#fff"/>
<rect x="61" y="384" width="3" height="1" fill="#fff"/>
<rect x="66.5" y="384" width="3" height="1" fill="#fff"/>
<rect x="72" y="384" width="3" height="1" fill="#fff"/>
<rect x="49" y="387" width="28" height="14" rx="0.5" fill="#fff" shape-rendering="geometricPrecision"/>
<text transform="translate(51.8,398.5) scale(0.66,1)" font-size="13.2" text-anchor="start" fill="#000" stroke="#000" stroke-width="0.15" textLength="32.12" lengthAdjust="spacing">U41</text>
<rect x="21" y="410" width="84" height="24.5" fill="#000"/>
<rect x="23" y="412" width="3" height="5" fill="#fff"/>
<rect x="23" y="427.5" width="3" height="5" fill="#fff"/>
<rect x="29" y="412" width="3" height="5" fill="#fff"/>
<rect x="29" y="427.5" width="3" height="5" fill="#fff"/>
<rect x="35" y="412" width="3" height="5" fill="#fff"/>
<rect x="35" y="427.5" width="3" height="5" fill="#fff"/>
<rect x="41" y="412" width="3" height="5" fill="#fff"/>
<rect x="41" y="427.5" width="3" height="5" fill="#fff"/>
<rect x="46" y="412" width="3" height="5" fill="#fff"/>
<rect x="46" y="427.5" width="3" height="5" fill="#fff"/>
<rect x="52" y="412" width="3" height="5" fill="#fff"/>
<rect x="52" y="427.5" width="3" height="5" fill="#fff"/>
<rect x="58" y="412" width="3" height="5" fill="#fff"/>
<rect x="58" y="427.5" width="3" height="5" fill="#fff"/>
<rect x="64" y="412" width="3" height="5" fill="#fff"/>
<rect x="64" y="427.5" width="3" height="5" fill="#fff"/>
<rect x="70" y="412" width="3" height="5" fill="#fff"/>
<rect x="70" y="427.5" width="3" height="5" fill="#fff"/>
<rect x="76" y="412" width="3" height="5" fill="#fff"/>
<rect x="76" y="427.5" width="3" height="5" fill="#fff"/>
<rect x="82" y="412" width="3" height="5" fill="#fff"/>
<rect x="82" y="427.5" width="3" height="5" fill="#fff"/>
<rect x="88" y="412" width="3" height="5" fill="#fff"/>
<rect x="88" y="427.5" width="3" height="5" fill="#fff"/>
<rect x="93" y="412" width="3" height="5" fill="#fff"/>
<rect x="93" y="427.5" width="3" height="5" fill="#fff"/>
<rect x="99" y="412" width="3" height="5" fill="#fff"/>
<rect x="99" y="427.5" width="3" height="5" fill="#fff"/>
<rect x="26" y="420" width="32" height="5" fill="#fff"/>
<rect x="64" y="420" width="33" height="5" fill="#fff"/>
<polygon points="105,420 103.8,420.8 102.6,421.8 102.6,423.2 103.8,424.2 105,425" fill="#fff" shape-rendering="geometricPrecision"/>
<rect x="21" y="436" width="84" height="24.5" fill="#000"/>
<rect x="23" y="438" width="3" height="5" fill="#fff"/>
<rect x="23" y="453.5" width="3" height="5" fill="#fff"/>
<rect x="29" y="438" width="3" height="5" fill="#fff"/>
<rect x="29" y="453.5" width="3" height="5" fill="#fff"/>
<rect x="35" y="438" width="3" height="5" fill="#fff"/>
<rect x="35" y="453.5" width="3" height="5" fill="#fff"/>
<rect x="41" y="438" width="3" height="5" fill="#fff"/>
<rect x="41" y="453.5" width="3" height="5" fill="#fff"/>
<rect x="46" y="438" width="3" height="5" fill="#fff"/>
<rect x="46" y="453.5" width="3" height="5" fill="#fff"/>
<rect x="52" y="438" width="3" height="5" fill="#fff"/>
<rect x="52" y="453.5" width="3" height="5" fill="#fff"/>
<rect x="58" y="438" width="3" height="5" fill="#fff"/>
<rect x="58" y="453.5" width="3" height="5" fill="#fff"/>
<rect x="64" y="438" width="3" height="5" fill="#fff"/>
<rect x="64" y="453.5" width="3" height="5" fill="#fff"/>
<rect x="70" y="438" width="3" height="5" fill="#fff"/>
<rect x="70" y="453.5" width="3" height="5" fill="#fff"/>
<rect x="76" y="438" width="3" height="5" fill="#fff"/>
<rect x="76" y="453.5" width="3" height="5" fill="#fff"/>
<rect x="82" y="438" width="3" height="5" fill="#fff"/>
<rect x="82" y="453.5" width="3" height="5" fill="#fff"/>
<rect x="88" y="438" width="3" height="5" fill="#fff"/>
<rect x="88" y="453.5" width="3" height="5" fill="#fff"/>
<rect x="93" y="438" width="3" height="5" fill="#fff"/>
<rect x="93" y="453.5" width="3" height="5" fill="#fff"/>
<rect x="99" y="438" width="3" height="5" fill="#fff"/>
<rect x="99" y="453.5" width="3" height="5" fill="#fff"/>
<rect x="26" y="446" width="32" height="5" fill="#fff"/>
<rect x="64" y="446" width="33" height="5" fill="#fff"/>
<polygon points="105,446 103.8,446.8 102.6,447.8 102.6,449.2 103.8,450.2 105,451" fill="#fff" shape-rendering="geometricPrecision"/>
<rect x="21" y="463" width="84" height="24.5" fill="#000"/>
<rect x="23" y="465" width="3" height="5" fill="#fff"/>
<rect x="23" y="480.5" width="3" height="5" fill="#fff"/>
<rect x="29" y="465" width="3" height="5" fill="#fff"/>
<rect x="29" y="480.5" width="3" height="5" fill="#fff"/>
<rect x="35" y="465" width="3" height="5" fill="#fff"/>
<rect x="35" y="480.5" width="3" height="5" fill="#fff"/>
<rect x="41" y="465" width="3" height="5" fill="#fff"/>
<rect x="41" y="480.5" width="3" height="5" fill="#fff"/>
<rect x="46" y="465" width="3" height="5" fill="#fff"/>
<rect x="46" y="480.5" width="3" height="5" fill="#fff"/>
<rect x="52" y="465" width="3" height="5" fill="#fff"/>
<rect x="52" y="480.5" width="3" height="5" fill="#fff"/>
<rect x="58" y="465" width="3" height="5" fill="#fff"/>
<rect x="58" y="480.5" width="3" height="5" fill="#fff"/>
<rect x="64" y="465" width="3" height="5" fill="#fff"/>
<rect x="64" y="480.5" width="3" height="5" fill="#fff"/>
<rect x="70" y="465" width="3" height="5" fill="#fff"/>
<rect x="70" y="480.5" width="3" height="5" fill="#fff"/>
<rect x="76" y="465" width="3" height="5" fill="#fff"/>
<rect x="76" y="480.5" width="3" height="5" fill="#fff"/>
<rect x="82" y="465" width="3" height="5" fill="#fff"/>
<rect x="82" y="480.5" width="3" height="5" fill="#fff"/>
<rect x="88" y="465" width="3" height="5" fill="#fff"/>
<rect x="88" y="480.5" width="3" height="5" fill="#fff"/>
<rect x="93" y="465" width="3" height="5" fill="#fff"/>
<rect x="93" y="480.5" width="3" height="5" fill="#fff"/>
<rect x="99" y="465" width="3" height="5" fill="#fff"/>
<rect x="99" y="480.5" width="3" height="5" fill="#fff"/>
<rect x="26" y="473" width="32" height="5" fill="#fff"/>
<rect x="64" y="473" width="33" height="5" fill="#fff"/>
<polygon points="105,473 103.8,473.8 102.6,474.8 102.6,476.2 103.8,477.2 105,478" fill="#fff" shape-rendering="geometricPrecision"/>
<rect x="21" y="489" width="84" height="24.5" fill="#000"/>
<rect x="23" y="491" width="3" height="5" fill="#fff"/>
<rect x="23" y="506.5" width="3" height="5" fill="#fff"/>
<rect x="29" y="491" width="3" height="5" fill="#fff"/>
<rect x="29" y="506.5" width="3" height="5" fill="#fff"/>
<rect x="35" y="491" width="3" height="5" fill="#fff"/>
<rect x="35" y="506.5" width="3" height="5" fill="#fff"/>
<rect x="41" y="491" width="3" height="5" fill="#fff"/>
<rect x="41" y="506.5" width="3" height="5" fill="#fff"/>
<rect x="46" y="491" width="3" height="5" fill="#fff"/>
<rect x="46" y="506.5" width="3" height="5" fill="#fff"/>
<rect x="52" y="491" width="3" height="5" fill="#fff"/>
<rect x="52" y="506.5" width="3" height="5" fill="#fff"/>
<rect x="58" y="491" width="3" height="5" fill="#fff"/>
<rect x="58" y="506.5" width="3" height="5" fill="#fff"/>
<rect x="64" y="491" width="3" height="5" fill="#fff"/>
<rect x="64" y="506.5" width="3" height="5" fill="#fff"/>
<rect x="70" y="491" width="3" height="5" fill="#fff"/>
<rect x="70" y="506.5" width="3" height="5" fill="#fff"/>
<rect x="76" y="491" width="3" height="5" fill="#fff"/>
<rect x="76" y="506.5" width="3" height="5" fill="#fff"/>
<rect x="82" y="491" width="3" height="5" fill="#fff"/>
<rect x="82" y="506.5" width="3" height="5" fill="#fff"/>
<rect x="88" y="491" width="3" height="5" fill="#fff"/>
<rect x="88" y="506.5" width="3" height="5" fill="#fff"/>
<rect x="93" y="491" width="3" height="5" fill="#fff"/>
<rect x="93" y="506.5" width="3" height="5" fill="#fff"/>
<rect x="99" y="491" width="3" height="5" fill="#fff"/>
<rect x="99" y="506.5" width="3" height="5" fill="#fff"/>
<rect x="26" y="499" width="32" height="5" fill="#fff"/>
<rect x="64" y="499" width="33" height="5" fill="#fff"/>
<polygon points="105,499 103.8,499.8 102.6,500.8 102.6,502.2 103.8,503.2 105,504" fill="#fff" shape-rendering="geometricPrecision"/>
<rect x="21" y="461.3" width="84" height="1.4" fill="#fff"/>
<rect x="110" y="410" width="85" height="24.5" fill="#000"/>
<rect x="113" y="412" width="3" height="5" fill="#fff"/>
<rect x="113" y="427.5" width="3" height="5" fill="#fff"/>
<rect x="119" y="412" width="3" height="5" fill="#fff"/>
<rect x="119" y="427.5" width="3" height="5" fill="#fff"/>
<rect x="125" y="412" width="3" height="5" fill="#fff"/>
<rect x="125" y="427.5" width="3" height="5" fill="#fff"/>
<rect x="131" y="412" width="3" height="5" fill="#fff"/>
<rect x="131" y="427.5" width="3" height="5" fill="#fff"/>
<rect x="136" y="412" width="3" height="5" fill="#fff"/>
<rect x="136" y="427.5" width="3" height="5" fill="#fff"/>
<rect x="142" y="412" width="3" height="5" fill="#fff"/>
<rect x="142" y="427.5" width="3" height="5" fill="#fff"/>
<rect x="148" y="412" width="3" height="5" fill="#fff"/>
<rect x="148" y="427.5" width="3" height="5" fill="#fff"/>
<rect x="154" y="412" width="3" height="5" fill="#fff"/>
<rect x="154" y="427.5" width="3" height="5" fill="#fff"/>
<rect x="160" y="412" width="3" height="5" fill="#fff"/>
<rect x="160" y="427.5" width="3" height="5" fill="#fff"/>
<rect x="166" y="412" width="3" height="5" fill="#fff"/>
<rect x="166" y="427.5" width="3" height="5" fill="#fff"/>
<rect x="172" y="412" width="3" height="5" fill="#fff"/>
<rect x="172" y="427.5" width="3" height="5" fill="#fff"/>
<rect x="178" y="412" width="3" height="5" fill="#fff"/>
<rect x="178" y="427.5" width="3" height="5" fill="#fff"/>
<rect x="183" y="412" width="3" height="5" fill="#fff"/>
<rect x="183" y="427.5" width="3" height="5" fill="#fff"/>
<rect x="189" y="412" width="3" height="5" fill="#fff"/>
<rect x="189" y="427.5" width="3" height="5" fill="#fff"/>
<rect x="116" y="420" width="32" height="5" fill="#fff"/>
<rect x="153" y="420" width="34" height="5" fill="#fff"/>
<polygon points="195,420 193.8,420.8 192.6,421.8 192.6,423.2 193.8,424.2 195,425" fill="#fff" shape-rendering="geometricPrecision"/>
<rect x="110" y="436" width="85" height="24.5" fill="#000"/>
<rect x="113" y="438" width="3" height="5" fill="#fff"/>
<rect x="113" y="453.5" width="3" height="5" fill="#fff"/>
<rect x="119" y="438" width="3" height="5" fill="#fff"/>
<rect x="119" y="453.5" width="3" height="5" fill="#fff"/>
<rect x="125" y="438" width="3" height="5" fill="#fff"/>
<rect x="125" y="453.5" width="3" height="5" fill="#fff"/>
<rect x="131" y="438" width="3" height="5" fill="#fff"/>
<rect x="131" y="453.5" width="3" height="5" fill="#fff"/>
<rect x="136" y="438" width="3" height="5" fill="#fff"/>
<rect x="136" y="453.5" width="3" height="5" fill="#fff"/>
<rect x="142" y="438" width="3" height="5" fill="#fff"/>
<rect x="142" y="453.5" width="3" height="5" fill="#fff"/>
<rect x="148" y="438" width="3" height="5" fill="#fff"/>
<rect x="148" y="453.5" width="3" height="5" fill="#fff"/>
<rect x="154" y="438" width="3" height="5" fill="#fff"/>
<rect x="154" y="453.5" width="3" height="5" fill="#fff"/>
<rect x="160" y="438" width="3" height="5" fill="#fff"/>
<rect x="160" y="453.5" width="3" height="5" fill="#fff"/>
<rect x="166" y="438" width="3" height="5" fill="#fff"/>
<rect x="166" y="453.5" width="3" height="5" fill="#fff"/>
<rect x="172" y="438" width="3" height="5" fill="#fff"/>
<rect x="172" y="453.5" width="3" height="5" fill="#fff"/>
<rect x="178" y="438" width="3" height="5" fill="#fff"/>
<rect x="178" y="453.5" width="3" height="5" fill="#fff"/>
<rect x="183" y="438" width="3" height="5" fill="#fff"/>
<rect x="183" y="453.5" width="3" height="5" fill="#fff"/>
<rect x="189" y="438" width="3" height="5" fill="#fff"/>
<rect x="189" y="453.5" width="3" height="5" fill="#fff"/>
<rect x="116" y="446" width="32" height="5" fill="#fff"/>
<rect x="153" y="446" width="34" height="5" fill="#fff"/>
<polygon points="195,446 193.8,446.8 192.6,447.8 192.6,449.2 193.8,450.2 195,451" fill="#fff" shape-rendering="geometricPrecision"/>
<rect x="110" y="463" width="85" height="24.5" fill="#000"/>
<rect x="113" y="465" width="3" height="5" fill="#fff"/>
<rect x="113" y="480.5" width="3" height="5" fill="#fff"/>
<rect x="119" y="465" width="3" height="5" fill="#fff"/>
<rect x="119" y="480.5" width="3" height="5" fill="#fff"/>
<rect x="125" y="465" width="3" height="5" fill="#fff"/>
<rect x="125" y="480.5" width="3" height="5" fill="#fff"/>
<rect x="131" y="465" width="3" height="5" fill="#fff"/>
<rect x="131" y="480.5" width="3" height="5" fill="#fff"/>
<rect x="136" y="465" width="3" height="5" fill="#fff"/>
<rect x="136" y="480.5" width="3" height="5" fill="#fff"/>
<rect x="142" y="465" width="3" height="5" fill="#fff"/>
<rect x="142" y="480.5" width="3" height="5" fill="#fff"/>
<rect x="148" y="465" width="3" height="5" fill="#fff"/>
<rect x="148" y="480.5" width="3" height="5" fill="#fff"/>
<rect x="154" y="465" width="3" height="5" fill="#fff"/>
<rect x="154" y="480.5" width="3" height="5" fill="#fff"/>
<rect x="160" y="465" width="3" height="5" fill="#fff"/>
<rect x="160" y="480.5" width="3" height="5" fill="#fff"/>
<rect x="166" y="465" width="3" height="5" fill="#fff"/>
<rect x="166" y="480.5" width="3" height="5" fill="#fff"/>
<rect x="172" y="465" width="3" height="5" fill="#fff"/>
<rect x="172" y="480.5" width="3" height="5" fill="#fff"/>
<rect x="178" y="465" width="3" height="5" fill="#fff"/>
<rect x="178" y="480.5" width="3" height="5" fill="#fff"/>
<rect x="183" y="465" width="3" height="5" fill="#fff"/>
<rect x="183" y="480.5" width="3" height="5" fill="#fff"/>
<rect x="189" y="465" width="3" height="5" fill="#fff"/>
<rect x="189" y="480.5" width="3" height="5" fill="#fff"/>
<rect x="116" y="473" width="32" height="5" fill="#fff"/>
<rect x="153" y="473" width="34" height="5" fill="#fff"/>
<polygon points="195,473 193.8,473.8 192.6,474.8 192.6,476.2 193.8,477.2 195,478" fill="#fff" shape-rendering="geometricPrecision"/>
<rect x="110" y="489" width="85" height="24.5" fill="#000"/>
<rect x="113" y="491" width="3" height="5" fill="#fff"/>
<rect x="113" y="506.5" width="3" height="5" fill="#fff"/>
<rect x="119" y="491" width="3" height="5" fill="#fff"/>
<rect x="119" y="506.5" width="3" height="5" fill="#fff"/>
<rect x="125" y="491" width="3" height="5" fill="#fff"/>
<rect x="125" y="506.5" width="3" height="5" fill="#fff"/>
<rect x="131" y="491" width="3" height="5" fill="#fff"/>
<rect x="131" y="506.5" width="3" height="5" fill="#fff"/>
<rect x="136" y="491" width="3" height="5" fill="#fff"/>
<rect x="136" y="506.5" width="3" height="5" fill="#fff"/>
<rect x="142" y="491" width="3" height="5" fill="#fff"/>
<rect x="142" y="506.5" width="3" height="5" fill="#fff"/>
<rect x="148" y="491" width="3" height="5" fill="#fff"/>
<rect x="148" y="506.5" width="3" height="5" fill="#fff"/>
<rect x="154" y="491" width="3" height="5" fill="#fff"/>
<rect x="154" y="506.5" width="3" height="5" fill="#fff"/>
<rect x="160" y="491" width="3" height="5" fill="#fff"/>
<rect x="160" y="506.5" width="3" height="5" fill="#fff"/>
<rect x="166" y="491" width="3" height="5" fill="#fff"/>
<rect x="166" y="506.5" width="3" height="5" fill="#fff"/>
<rect x="172" y="491" width="3" height="5" fill="#fff"/>
<rect x="172" y="506.5" width="3" height="5" fill="#fff"/>
<rect x="178" y="491" width="3" height="5" fill="#fff"/>
<rect x="178" y="506.5" width="3" height="5" fill="#fff"/>
<rect x="183" y="491" width="3" height="5" fill="#fff"/>
<rect x="183" y="506.5" width="3" height="5" fill="#fff"/>
<rect x="189" y="491" width="3" height="5" fill="#fff"/>
<rect x="189" y="506.5" width="3" height="5" fill="#fff"/>
<rect x="116" y="499" width="32" height="5" fill="#fff"/>
<rect x="153" y="499" width="34" height="5" fill="#fff"/>
<polygon points="195,499 193.8,499.8 192.6,500.8 192.6,502.2 193.8,503.2 195,504" fill="#fff" shape-rendering="geometricPrecision"/>
<rect x="110" y="461.3" width="84" height="1.4" fill="#fff"/>
<rect x="33.8" y="452.8" width="58.4" height="17.4" rx="3" fill="#000" shape-rendering="geometricPrecision"/>
<rect x="35" y="454" width="56" height="15" rx="2.2" fill="#fff" shape-rendering="geometricPrecision"/>
<text transform="translate(37.8,465) scale(0.66,1)" font-size="13.9" text-anchor="start" fill="#000" stroke="#000" stroke-width="0.15" textLength="68.79" lengthAdjust="spacing">BANK 1</text>
<rect x="123.8" y="452.8" width="57.4" height="17.4" rx="3" fill="#000" shape-rendering="geometricPrecision"/>
<rect x="125" y="454" width="55" height="15" rx="2.2" fill="#fff" shape-rendering="geometricPrecision"/>
<text transform="translate(127,466) scale(0.66,1)" font-size="13.9" text-anchor="start" fill="#000" stroke="#000" stroke-width="0.15" textLength="68.64" lengthAdjust="spacing">BANK 0</text>
<path d="M195.5 411.5 L200.5 416 L200.5 455.5 L204.5 461.5 L200.5 467.5 L200.5 507 L195.5 512" fill="none" stroke="#000" stroke-width="1.25" shape-rendering="geometricPrecision"/>
<rect x="200" y="416" width="1" height="39.5" fill="#000"/>
<rect x="200" y="467.5" width="1" height="39.5" fill="#000"/>
<rect x="468.5" y="348.5" width="226" height="76" fill="#fff" stroke="#000" stroke-width="1"/>
<rect x="468" y="354.5" width="7" height="1" fill="#000"/>
<rect x="468" y="363" width="7" height="1" fill="#000"/>
<rect x="475" y="348" width="4" height="17" fill="#000"/>
<rect x="479.5" y="353.5" width="9" height="9.5" fill="#fff" stroke="#000" stroke-width="1"/>
<rect x="486" y="349" width="1" height="5" fill="#000"/>
<rect x="481.5" y="353.5" width="5" height="2.5" fill="#fff" stroke="#000" stroke-width="1"/>
<rect x="482" y="353" width="4" height="1" fill="#fff"/>
<rect x="686" y="354.5" width="8" height="1" fill="#000"/>
<rect x="686" y="363" width="8" height="1" fill="#000"/>
<rect x="682" y="348" width="3.5" height="17" fill="#000"/>
<rect x="672.5" y="353.5" width="9" height="9.5" fill="#fff" stroke="#000" stroke-width="1"/>
<rect x="675" y="349" width="1" height="5" fill="#000"/>
<rect x="675.5" y="353.5" width="4" height="2.5" fill="#fff" stroke="#000" stroke-width="1"/>
<rect x="676" y="353" width="4" height="1" fill="#fff"/>
<rect x="493" y="350" width="175" height="14" fill="#000"/>
<rect x="496" y="357" width="4" height="6" fill="#fff"/>
<rect x="497" y="351" width="2" height="4" fill="#fff"/>
<rect x="502" y="357" width="4" height="6" fill="#fff"/>
<rect x="503" y="351" width="2" height="4" fill="#fff"/>
<rect x="508" y="357" width="4" height="6" fill="#fff"/>
<rect x="510" y="351" width="1" height="6" fill="#fff"/>
<rect x="514" y="357" width="4" height="6" fill="#fff"/>
<rect x="516" y="351" width="1" height="4" fill="#fff"/>
<rect x="520" y="357" width="4" height="6" fill="#fff"/>
<rect x="521" y="351" width="2" height="4" fill="#fff"/>
<rect x="525" y="357" width="4" height="6" fill="#fff"/>
<rect x="526" y="351" width="2" height="4" fill="#fff"/>
<rect x="531" y="357" width="4" height="6" fill="#fff"/>
<rect x="533" y="351" width="1" height="4" fill="#fff"/>
<rect x="537" y="357" width="4" height="6" fill="#fff"/>
<rect x="539" y="351" width="1" height="4" fill="#fff"/>
<rect x="543" y="357" width="4" height="6" fill="#fff"/>
<rect x="544" y="351" width="2" height="4" fill="#fff"/>
<rect x="549" y="357" width="4" height="6" fill="#fff"/>
<rect x="550" y="351" width="2" height="4" fill="#fff"/>
<rect x="555" y="357" width="4" height="6" fill="#fff"/>
<rect x="557" y="351" width="1" height="4" fill="#fff"/>
<rect x="561" y="357" width="4" height="6" fill="#fff"/>
<rect x="563" y="351" width="1" height="6" fill="#fff"/>
<rect x="567" y="357" width="4" height="6" fill="#fff"/>
<rect x="568" y="351" width="2" height="4" fill="#fff"/>
<rect x="573" y="357" width="4" height="6" fill="#fff"/>
<rect x="574" y="351" width="2" height="4" fill="#fff"/>
<rect x="578" y="357" width="4" height="6" fill="#fff"/>
<rect x="580" y="351" width="1" height="6" fill="#fff"/>
<rect x="584" y="357" width="4" height="6" fill="#fff"/>
<rect x="586" y="351" width="1" height="4" fill="#fff"/>
<rect x="590" y="357" width="4" height="6" fill="#fff"/>
<rect x="591" y="351" width="2" height="4" fill="#fff"/>
<rect x="596" y="357" width="4" height="6" fill="#fff"/>
<rect x="597" y="351" width="2" height="4" fill="#fff"/>
<rect x="602" y="357" width="4" height="6" fill="#fff"/>
<rect x="604" y="351" width="1" height="4" fill="#fff"/>
<rect x="608" y="357" width="4" height="6" fill="#fff"/>
<rect x="610" y="351" width="1" height="4" fill="#fff"/>
<rect x="614" y="357" width="4" height="6" fill="#fff"/>
<rect x="615" y="351" width="2" height="4" fill="#fff"/>
<rect x="620" y="357" width="4" height="6" fill="#fff"/>
<rect x="621" y="351" width="2" height="4" fill="#fff"/>
<rect x="626" y="357" width="4" height="6" fill="#fff"/>
<rect x="628" y="351" width="1" height="4" fill="#fff"/>
<rect x="632" y="357" width="4" height="6" fill="#fff"/>
<rect x="634" y="351" width="1" height="6" fill="#fff"/>
<rect x="637" y="357" width="4" height="6" fill="#fff"/>
<rect x="638" y="351" width="2" height="4" fill="#fff"/>
<rect x="643" y="357" width="4" height="6" fill="#fff"/>
<rect x="644" y="351" width="2" height="4" fill="#fff"/>
<rect x="649" y="357" width="4" height="6" fill="#fff"/>
<rect x="651" y="351" width="1" height="6" fill="#fff"/>
<rect x="655" y="357" width="4" height="6" fill="#fff"/>
<rect x="657" y="351" width="1" height="4" fill="#fff"/>
<rect x="661" y="357" width="4" height="6" fill="#fff"/>
<rect x="662" y="351" width="2" height="4" fill="#fff"/>
<rect x="468" y="366" width="227" height="2" fill="#000"/>
<rect x="468" y="373.5" width="7" height="1" fill="#000"/>
<rect x="468" y="382" width="7" height="1" fill="#000"/>
<rect x="475" y="367" width="4" height="17" fill="#000"/>
<rect x="479.5" y="372.5" width="9" height="9.5" fill="#fff" stroke="#000" stroke-width="1"/>
<rect x="486" y="368" width="1" height="5" fill="#000"/>
<rect x="481.5" y="372.5" width="5" height="2.5" fill="#fff" stroke="#000" stroke-width="1"/>
<rect x="482" y="372" width="4" height="1" fill="#fff"/>
<rect x="686" y="373.5" width="8" height="1" fill="#000"/>
<rect x="686" y="382" width="8" height="1" fill="#000"/>
<rect x="682" y="367" width="3.5" height="17" fill="#000"/>
<rect x="672.5" y="372.5" width="9" height="9.5" fill="#fff" stroke="#000" stroke-width="1"/>
<rect x="675" y="368" width="1" height="5" fill="#000"/>
<rect x="675.5" y="372.5" width="4" height="2.5" fill="#fff" stroke="#000" stroke-width="1"/>
<rect x="676" y="372" width="4" height="1" fill="#fff"/>
<rect x="493" y="369" width="175" height="14" fill="#000"/>
<rect x="496" y="376" width="4" height="6" fill="#fff"/>
<rect x="497" y="370" width="2" height="4" fill="#fff"/>
<rect x="502" y="376" width="4" height="6" fill="#fff"/>
<rect x="503" y="370" width="2" height="4" fill="#fff"/>
<rect x="508" y="376" width="4" height="6" fill="#fff"/>
<rect x="510" y="370" width="1" height="6" fill="#fff"/>
<rect x="514" y="376" width="4" height="6" fill="#fff"/>
<rect x="516" y="370" width="1" height="4" fill="#fff"/>
<rect x="520" y="376" width="4" height="6" fill="#fff"/>
<rect x="521" y="370" width="2" height="4" fill="#fff"/>
<rect x="525" y="376" width="4" height="6" fill="#fff"/>
<rect x="526" y="370" width="2" height="4" fill="#fff"/>
<rect x="531" y="376" width="4" height="6" fill="#fff"/>
<rect x="533" y="370" width="1" height="4" fill="#fff"/>
<rect x="537" y="376" width="4" height="6" fill="#fff"/>
<rect x="539" y="370" width="1" height="4" fill="#fff"/>
<rect x="543" y="376" width="4" height="6" fill="#fff"/>
<rect x="544" y="370" width="2" height="4" fill="#fff"/>
<rect x="549" y="376" width="4" height="6" fill="#fff"/>
<rect x="550" y="370" width="2" height="4" fill="#fff"/>
<rect x="555" y="376" width="4" height="6" fill="#fff"/>
<rect x="557" y="370" width="1" height="4" fill="#fff"/>
<rect x="561" y="376" width="4" height="6" fill="#fff"/>
<rect x="563" y="370" width="1" height="6" fill="#fff"/>
<rect x="567" y="376" width="4" height="6" fill="#fff"/>
<rect x="568" y="370" width="2" height="4" fill="#fff"/>
<rect x="573" y="376" width="4" height="6" fill="#fff"/>
<rect x="574" y="370" width="2" height="4" fill="#fff"/>
<rect x="578" y="376" width="4" height="6" fill="#fff"/>
<rect x="580" y="370" width="1" height="6" fill="#fff"/>
<rect x="584" y="376" width="4" height="6" fill="#fff"/>
<rect x="586" y="370" width="1" height="4" fill="#fff"/>
<rect x="590" y="376" width="4" height="6" fill="#fff"/>
<rect x="591" y="370" width="2" height="4" fill="#fff"/>
<rect x="596" y="376" width="4" height="6" fill="#fff"/>
<rect x="597" y="370" width="2" height="4" fill="#fff"/>
<rect x="602" y="376" width="4" height="6" fill="#fff"/>
<rect x="604" y="370" width="1" height="4" fill="#fff"/>
<rect x="608" y="376" width="4" height="6" fill="#fff"/>
<rect x="610" y="370" width="1" height="4" fill="#fff"/>
<rect x="614" y="376" width="4" height="6" fill="#fff"/>
<rect x="615" y="370" width="2" height="4" fill="#fff"/>
<rect x="620" y="376" width="4" height="6" fill="#fff"/>
<rect x="621" y="370" width="2" height="4" fill="#fff"/>
<rect x="626" y="376" width="4" height="6" fill="#fff"/>
<rect x="628" y="370" width="1" height="4" fill="#fff"/>
<rect x="632" y="376" width="4" height="6" fill="#fff"/>
<rect x="634" y="370" width="1" height="6" fill="#fff"/>
<rect x="637" y="376" width="4" height="6" fill="#fff"/>
<rect x="638" y="370" width="2" height="4" fill="#fff"/>
<rect x="643" y="376" width="4" height="6" fill="#fff"/>
<rect x="644" y="370" width="2" height="4" fill="#fff"/>
<rect x="649" y="376" width="4" height="6" fill="#fff"/>
<rect x="651" y="370" width="1" height="6" fill="#fff"/>
<rect x="655" y="376" width="4" height="6" fill="#fff"/>
<rect x="657" y="370" width="1" height="4" fill="#fff"/>
<rect x="661" y="376" width="4" height="6" fill="#fff"/>
<rect x="662" y="370" width="2" height="4" fill="#fff"/>
<rect x="468" y="385" width="227" height="2" fill="#000"/>
<rect x="468" y="392.5" width="7" height="1" fill="#000"/>
<rect x="468" y="401" width="7" height="1" fill="#000"/>
<rect x="475" y="386" width="4" height="17" fill="#000"/>
<rect x="479.5" y="391.5" width="9" height="9.5" fill="#fff" stroke="#000" stroke-width="1"/>
<rect x="486" y="387" width="1" height="5" fill="#000"/>
<rect x="481.5" y="391.5" width="5" height="2.5" fill="#fff" stroke="#000" stroke-width="1"/>
<rect x="482" y="391" width="4" height="1" fill="#fff"/>
<rect x="686" y="392.5" width="8" height="1" fill="#000"/>
<rect x="686" y="401" width="8" height="1" fill="#000"/>
<rect x="682" y="386" width="3.5" height="17" fill="#000"/>
<rect x="672.5" y="391.5" width="9" height="9.5" fill="#fff" stroke="#000" stroke-width="1"/>
<rect x="675" y="387" width="1" height="5" fill="#000"/>
<rect x="675.5" y="391.5" width="4" height="2.5" fill="#fff" stroke="#000" stroke-width="1"/>
<rect x="676" y="391" width="4" height="1" fill="#fff"/>
<rect x="493" y="388" width="175" height="14" fill="#000"/>
<rect x="496" y="395" width="4" height="6" fill="#fff"/>
<rect x="497" y="389" width="2" height="4" fill="#fff"/>
<rect x="502" y="395" width="4" height="6" fill="#fff"/>
<rect x="503" y="389" width="2" height="4" fill="#fff"/>
<rect x="508" y="395" width="4" height="6" fill="#fff"/>
<rect x="510" y="389" width="1" height="6" fill="#fff"/>
<rect x="514" y="395" width="4" height="6" fill="#fff"/>
<rect x="516" y="389" width="1" height="4" fill="#fff"/>
<rect x="520" y="395" width="4" height="6" fill="#fff"/>
<rect x="521" y="389" width="2" height="4" fill="#fff"/>
<rect x="525" y="395" width="4" height="6" fill="#fff"/>
<rect x="526" y="389" width="2" height="4" fill="#fff"/>
<rect x="531" y="395" width="4" height="6" fill="#fff"/>
<rect x="533" y="389" width="1" height="4" fill="#fff"/>
<rect x="537" y="395" width="4" height="6" fill="#fff"/>
<rect x="539" y="389" width="1" height="4" fill="#fff"/>
<rect x="543" y="395" width="4" height="6" fill="#fff"/>
<rect x="544" y="389" width="2" height="4" fill="#fff"/>
<rect x="549" y="395" width="4" height="6" fill="#fff"/>
<rect x="550" y="389" width="2" height="4" fill="#fff"/>
<rect x="555" y="395" width="4" height="6" fill="#fff"/>
<rect x="557" y="389" width="1" height="4" fill="#fff"/>
<rect x="561" y="395" width="4" height="6" fill="#fff"/>
<rect x="563" y="389" width="1" height="6" fill="#fff"/>
<rect x="567" y="395" width="4" height="6" fill="#fff"/>
<rect x="568" y="389" width="2" height="4" fill="#fff"/>
<rect x="573" y="395" width="4" height="6" fill="#fff"/>
<rect x="574" y="389" width="2" height="4" fill="#fff"/>
<rect x="578" y="395" width="4" height="6" fill="#fff"/>
<rect x="580" y="389" width="1" height="6" fill="#fff"/>
<rect x="584" y="395" width="4" height="6" fill="#fff"/>
<rect x="586" y="389" width="1" height="4" fill="#fff"/>
<rect x="590" y="395" width="4" height="6" fill="#fff"/>
<rect x="591" y="389" width="2" height="4" fill="#fff"/>
<rect x="596" y="395" width="4" height="6" fill="#fff"/>
<rect x="597" y="389" width="2" height="4" fill="#fff"/>
<rect x="602" y="395" width="4" height="6" fill="#fff"/>
<rect x="604" y="389" width="1" height="4" fill="#fff"/>
<rect x="608" y="395" width="4" height="6" fill="#fff"/>
<rect x="610" y="389" width="1" height="4" fill="#fff"/>
<rect x="614" y="395" width="4" height="6" fill="#fff"/>
<rect x="615" y="389" width="2" height="4" fill="#fff"/>
<rect x="620" y="395" width="4" height="6" fill="#fff"/>
<rect x="621" y="389" width="2" height="4" fill="#fff"/>
<rect x="626" y="395" width="4" height="6" fill="#fff"/>
<rect x="628" y="389" width="1" height="4" fill="#fff"/>
<rect x="632" y="395" width="4" height="6" fill="#fff"/>
<rect x="634" y="389" width="1" height="6" fill="#fff"/>
<rect x="637" y="395" width="4" height="6" fill="#fff"/>
<rect x="638" y="389" width="2" height="4" fill="#fff"/>
<rect x="643" y="395" width="4" height="6" fill="#fff"/>
<rect x="644" y="389" width="2" height="4" fill="#fff"/>
<rect x="649" y="395" width="4" height="6" fill="#fff"/>
<rect x="651" y="389" width="1" height="6" fill="#fff"/>
<rect x="655" y="395" width="4" height="6" fill="#fff"/>
<rect x="657" y="389" width="1" height="4" fill="#fff"/>
<rect x="661" y="395" width="4" height="6" fill="#fff"/>
<rect x="662" y="389" width="2" height="4" fill="#fff"/>
<rect x="468" y="404" width="227" height="2" fill="#000"/>
<rect x="468" y="411.5" width="7" height="1" fill="#000"/>
<rect x="468" y="420" width="7" height="1" fill="#000"/>
<rect x="475" y="405" width="4" height="17" fill="#000"/>
<rect x="479.5" y="410.5" width="9" height="9.5" fill="#fff" stroke="#000" stroke-width="1"/>
<rect x="486" y="406" width="1" height="5" fill="#000"/>
<rect x="481.5" y="410.5" width="5" height="2.5" fill="#fff" stroke="#000" stroke-width="1"/>
<rect x="482" y="410" width="4" height="1" fill="#fff"/>
<rect x="686" y="411.5" width="8" height="1" fill="#000"/>
<rect x="686" y="420" width="8" height="1" fill="#000"/>
<rect x="682" y="405" width="3.5" height="17" fill="#000"/>
<rect x="672.5" y="410.5" width="9" height="9.5" fill="#fff" stroke="#000" stroke-width="1"/>
<rect x="675" y="406" width="1" height="5" fill="#000"/>
<rect x="675.5" y="410.5" width="4" height="2.5" fill="#fff" stroke="#000" stroke-width="1"/>
<rect x="676" y="410" width="4" height="1" fill="#fff"/>
<rect x="493" y="407" width="175" height="14" fill="#000"/>
<rect x="496" y="414" width="4" height="6" fill="#fff"/>
<rect x="497" y="408" width="2" height="4" fill="#fff"/>
<rect x="502" y="414" width="4" height="6" fill="#fff"/>
<rect x="503" y="408" width="2" height="4" fill="#fff"/>
<rect x="508" y="414" width="4" height="6" fill="#fff"/>
<rect x="510" y="408" width="1" height="6" fill="#fff"/>
<rect x="514" y="414" width="4" height="6" fill="#fff"/>
<rect x="516" y="408" width="1" height="4" fill="#fff"/>
<rect x="520" y="414" width="4" height="6" fill="#fff"/>
<rect x="521" y="408" width="2" height="4" fill="#fff"/>
<rect x="525" y="414" width="4" height="6" fill="#fff"/>
<rect x="526" y="408" width="2" height="4" fill="#fff"/>
<rect x="531" y="414" width="4" height="6" fill="#fff"/>
<rect x="533" y="408" width="1" height="4" fill="#fff"/>
<rect x="537" y="414" width="4" height="6" fill="#fff"/>
<rect x="539" y="408" width="1" height="4" fill="#fff"/>
<rect x="543" y="414" width="4" height="6" fill="#fff"/>
<rect x="544" y="408" width="2" height="4" fill="#fff"/>
<rect x="549" y="414" width="4" height="6" fill="#fff"/>
<rect x="550" y="408" width="2" height="4" fill="#fff"/>
<rect x="555" y="414" width="4" height="6" fill="#fff"/>
<rect x="557" y="408" width="1" height="4" fill="#fff"/>
<rect x="561" y="414" width="4" height="6" fill="#fff"/>
<rect x="563" y="408" width="1" height="6" fill="#fff"/>
<rect x="567" y="414" width="4" height="6" fill="#fff"/>
<rect x="568" y="408" width="2" height="4" fill="#fff"/>
<rect x="573" y="414" width="4" height="6" fill="#fff"/>
<rect x="574" y="408" width="2" height="4" fill="#fff"/>
<rect x="578" y="414" width="4" height="6" fill="#fff"/>
<rect x="580" y="408" width="1" height="6" fill="#fff"/>
<rect x="584" y="414" width="4" height="6" fill="#fff"/>
<rect x="586" y="408" width="1" height="4" fill="#fff"/>
<rect x="590" y="414" width="4" height="6" fill="#fff"/>
<rect x="591" y="408" width="2" height="4" fill="#fff"/>
<rect x="596" y="414" width="4" height="6" fill="#fff"/>
<rect x="597" y="408" width="2" height="4" fill="#fff"/>
<rect x="602" y="414" width="4" height="6" fill="#fff"/>
<rect x="604" y="408" width="1" height="4" fill="#fff"/>
<rect x="608" y="414" width="4" height="6" fill="#fff"/>
<rect x="610" y="408" width="1" height="4" fill="#fff"/>
<rect x="614" y="414" width="4" height="6" fill="#fff"/>
<rect x="615" y="408" width="2" height="4" fill="#fff"/>
<rect x="620" y="414" width="4" height="6" fill="#fff"/>
<rect x="621" y="408" width="2" height="4" fill="#fff"/>
<rect x="626" y="414" width="4" height="6" fill="#fff"/>
<rect x="628" y="408" width="1" height="4" fill="#fff"/>
<rect x="632" y="414" width="4" height="6" fill="#fff"/>
<rect x="634" y="408" width="1" height="6" fill="#fff"/>
<rect x="637" y="414" width="4" height="6" fill="#fff"/>
<rect x="638" y="408" width="2" height="4" fill="#fff"/>
<rect x="643" y="414" width="4" height="6" fill="#fff"/>
<rect x="644" y="408" width="2" height="4" fill="#fff"/>
<rect x="649" y="414" width="4" height="6" fill="#fff"/>
<rect x="651" y="408" width="1" height="6" fill="#fff"/>
<rect x="655" y="414" width="4" height="6" fill="#fff"/>
<rect x="657" y="408" width="1" height="4" fill="#fff"/>
<rect x="661" y="414" width="4" height="6" fill="#fff"/>
<rect x="662" y="408" width="2" height="4" fill="#fff"/>
<rect x="468.5" y="433.5" width="226" height="76" fill="#fff" stroke="#000" stroke-width="1"/>
<rect x="468" y="439.5" width="7" height="1" fill="#000"/>
<rect x="468" y="448" width="7" height="1" fill="#000"/>
<rect x="475" y="433" width="4" height="17" fill="#000"/>
<rect x="479.5" y="438.5" width="9" height="9.5" fill="#fff" stroke="#000" stroke-width="1"/>
<rect x="486" y="434" width="1" height="5" fill="#000"/>
<rect x="481.5" y="438.5" width="5" height="2.5" fill="#fff" stroke="#000" stroke-width="1"/>
<rect x="482" y="438" width="4" height="1" fill="#fff"/>
<rect x="686" y="439.5" width="8" height="1" fill="#000"/>
<rect x="686" y="448" width="8" height="1" fill="#000"/>
<rect x="682" y="433" width="3.5" height="17" fill="#000"/>
<rect x="672.5" y="438.5" width="9" height="9.5" fill="#fff" stroke="#000" stroke-width="1"/>
<rect x="675" y="434" width="1" height="5" fill="#000"/>
<rect x="675.5" y="438.5" width="4" height="2.5" fill="#fff" stroke="#000" stroke-width="1"/>
<rect x="676" y="438" width="4" height="1" fill="#fff"/>
<rect x="493" y="435" width="175" height="14" fill="#000"/>
<rect x="496" y="442" width="4" height="6" fill="#fff"/>
<rect x="497" y="436" width="2" height="4" fill="#fff"/>
<rect x="502" y="442" width="4" height="6" fill="#fff"/>
<rect x="503" y="436" width="2" height="4" fill="#fff"/>
<rect x="508" y="442" width="4" height="6" fill="#fff"/>
<rect x="510" y="436" width="1" height="6" fill="#fff"/>
<rect x="514" y="442" width="4" height="6" fill="#fff"/>
<rect x="516" y="436" width="1" height="4" fill="#fff"/>
<rect x="520" y="442" width="4" height="6" fill="#fff"/>
<rect x="521" y="436" width="2" height="4" fill="#fff"/>
<rect x="525" y="442" width="4" height="6" fill="#fff"/>
<rect x="526" y="436" width="2" height="4" fill="#fff"/>
<rect x="531" y="442" width="4" height="6" fill="#fff"/>
<rect x="533" y="436" width="1" height="4" fill="#fff"/>
<rect x="537" y="442" width="4" height="6" fill="#fff"/>
<rect x="539" y="436" width="1" height="4" fill="#fff"/>
<rect x="543" y="442" width="4" height="6" fill="#fff"/>
<rect x="544" y="436" width="2" height="4" fill="#fff"/>
<rect x="549" y="442" width="4" height="6" fill="#fff"/>
<rect x="550" y="436" width="2" height="4" fill="#fff"/>
<rect x="555" y="442" width="4" height="6" fill="#fff"/>
<rect x="557" y="436" width="1" height="4" fill="#fff"/>
<rect x="561" y="442" width="4" height="6" fill="#fff"/>
<rect x="563" y="436" width="1" height="6" fill="#fff"/>
<rect x="567" y="442" width="4" height="6" fill="#fff"/>
<rect x="568" y="436" width="2" height="4" fill="#fff"/>
<rect x="573" y="442" width="4" height="6" fill="#fff"/>
<rect x="574" y="436" width="2" height="4" fill="#fff"/>
<rect x="578" y="442" width="4" height="6" fill="#fff"/>
<rect x="580" y="436" width="1" height="6" fill="#fff"/>
<rect x="584" y="442" width="4" height="6" fill="#fff"/>
<rect x="586" y="436" width="1" height="4" fill="#fff"/>
<rect x="590" y="442" width="4" height="6" fill="#fff"/>
<rect x="591" y="436" width="2" height="4" fill="#fff"/>
<rect x="596" y="442" width="4" height="6" fill="#fff"/>
<rect x="597" y="436" width="2" height="4" fill="#fff"/>
<rect x="602" y="442" width="4" height="6" fill="#fff"/>
<rect x="604" y="436" width="1" height="4" fill="#fff"/>
<rect x="608" y="442" width="4" height="6" fill="#fff"/>
<rect x="610" y="436" width="1" height="4" fill="#fff"/>
<rect x="614" y="442" width="4" height="6" fill="#fff"/>
<rect x="615" y="436" width="2" height="4" fill="#fff"/>
<rect x="620" y="442" width="4" height="6" fill="#fff"/>
<rect x="621" y="436" width="2" height="4" fill="#fff"/>
<rect x="626" y="442" width="4" height="6" fill="#fff"/>
<rect x="628" y="436" width="1" height="4" fill="#fff"/>
<rect x="632" y="442" width="4" height="6" fill="#fff"/>
<rect x="634" y="436" width="1" height="6" fill="#fff"/>
<rect x="637" y="442" width="4" height="6" fill="#fff"/>
<rect x="638" y="436" width="2" height="4" fill="#fff"/>
<rect x="643" y="442" width="4" height="6" fill="#fff"/>
<rect x="644" y="436" width="2" height="4" fill="#fff"/>
<rect x="649" y="442" width="4" height="6" fill="#fff"/>
<rect x="651" y="436" width="1" height="6" fill="#fff"/>
<rect x="655" y="442" width="4" height="6" fill="#fff"/>
<rect x="657" y="436" width="1" height="4" fill="#fff"/>
<rect x="661" y="442" width="4" height="6" fill="#fff"/>
<rect x="662" y="436" width="2" height="4" fill="#fff"/>
<rect x="468" y="451" width="227" height="2" fill="#000"/>
<rect x="468" y="458.5" width="7" height="1" fill="#000"/>
<rect x="468" y="467" width="7" height="1" fill="#000"/>
<rect x="475" y="452" width="4" height="17" fill="#000"/>
<rect x="479.5" y="457.5" width="9" height="9.5" fill="#fff" stroke="#000" stroke-width="1"/>
<rect x="486" y="453" width="1" height="5" fill="#000"/>
<rect x="481.5" y="457.5" width="5" height="2.5" fill="#fff" stroke="#000" stroke-width="1"/>
<rect x="482" y="457" width="4" height="1" fill="#fff"/>
<rect x="686" y="458.5" width="8" height="1" fill="#000"/>
<rect x="686" y="467" width="8" height="1" fill="#000"/>
<rect x="682" y="452" width="3.5" height="17" fill="#000"/>
<rect x="672.5" y="457.5" width="9" height="9.5" fill="#fff" stroke="#000" stroke-width="1"/>
<rect x="675" y="453" width="1" height="5" fill="#000"/>
<rect x="675.5" y="457.5" width="4" height="2.5" fill="#fff" stroke="#000" stroke-width="1"/>
<rect x="676" y="457" width="4" height="1" fill="#fff"/>
<rect x="493" y="454" width="175" height="14" fill="#000"/>
<rect x="496" y="461" width="4" height="6" fill="#fff"/>
<rect x="497" y="455" width="2" height="4" fill="#fff"/>
<rect x="502" y="461" width="4" height="6" fill="#fff"/>
<rect x="503" y="455" width="2" height="4" fill="#fff"/>
<rect x="508" y="461" width="4" height="6" fill="#fff"/>
<rect x="510" y="455" width="1" height="6" fill="#fff"/>
<rect x="514" y="461" width="4" height="6" fill="#fff"/>
<rect x="516" y="455" width="1" height="4" fill="#fff"/>
<rect x="520" y="461" width="4" height="6" fill="#fff"/>
<rect x="521" y="455" width="2" height="4" fill="#fff"/>
<rect x="525" y="461" width="4" height="6" fill="#fff"/>
<rect x="526" y="455" width="2" height="4" fill="#fff"/>
<rect x="531" y="461" width="4" height="6" fill="#fff"/>
<rect x="533" y="455" width="1" height="4" fill="#fff"/>
<rect x="537" y="461" width="4" height="6" fill="#fff"/>
<rect x="539" y="455" width="1" height="4" fill="#fff"/>
<rect x="543" y="461" width="4" height="6" fill="#fff"/>
<rect x="544" y="455" width="2" height="4" fill="#fff"/>
<rect x="549" y="461" width="4" height="6" fill="#fff"/>
<rect x="550" y="455" width="2" height="4" fill="#fff"/>
<rect x="555" y="461" width="4" height="6" fill="#fff"/>
<rect x="557" y="455" width="1" height="4" fill="#fff"/>
<rect x="561" y="461" width="4" height="6" fill="#fff"/>
<rect x="563" y="455" width="1" height="6" fill="#fff"/>
<rect x="567" y="461" width="4" height="6" fill="#fff"/>
<rect x="568" y="455" width="2" height="4" fill="#fff"/>
<rect x="573" y="461" width="4" height="6" fill="#fff"/>
<rect x="574" y="455" width="2" height="4" fill="#fff"/>
<rect x="578" y="461" width="4" height="6" fill="#fff"/>
<rect x="580" y="455" width="1" height="6" fill="#fff"/>
<rect x="584" y="461" width="4" height="6" fill="#fff"/>
<rect x="586" y="455" width="1" height="4" fill="#fff"/>
<rect x="590" y="461" width="4" height="6" fill="#fff"/>
<rect x="591" y="455" width="2" height="4" fill="#fff"/>
<rect x="596" y="461" width="4" height="6" fill="#fff"/>
<rect x="597" y="455" width="2" height="4" fill="#fff"/>
<rect x="602" y="461" width="4" height="6" fill="#fff"/>
<rect x="604" y="455" width="1" height="4" fill="#fff"/>
<rect x="608" y="461" width="4" height="6" fill="#fff"/>
<rect x="610" y="455" width="1" height="4" fill="#fff"/>
<rect x="614" y="461" width="4" height="6" fill="#fff"/>
<rect x="615" y="455" width="2" height="4" fill="#fff"/>
<rect x="620" y="461" width="4" height="6" fill="#fff"/>
<rect x="621" y="455" width="2" height="4" fill="#fff"/>
<rect x="626" y="461" width="4" height="6" fill="#fff"/>
<rect x="628" y="455" width="1" height="4" fill="#fff"/>
<rect x="632" y="461" width="4" height="6" fill="#fff"/>
<rect x="634" y="455" width="1" height="6" fill="#fff"/>
<rect x="637" y="461" width="4" height="6" fill="#fff"/>
<rect x="638" y="455" width="2" height="4" fill="#fff"/>
<rect x="643" y="461" width="4" height="6" fill="#fff"/>
<rect x="644" y="455" width="2" height="4" fill="#fff"/>
<rect x="649" y="461" width="4" height="6" fill="#fff"/>
<rect x="651" y="455" width="1" height="6" fill="#fff"/>
<rect x="655" y="461" width="4" height="6" fill="#fff"/>
<rect x="657" y="455" width="1" height="4" fill="#fff"/>
<rect x="661" y="461" width="4" height="6" fill="#fff"/>
<rect x="662" y="455" width="2" height="4" fill="#fff"/>
<rect x="468" y="470" width="227" height="2" fill="#000"/>
<rect x="468" y="477.5" width="7" height="1" fill="#000"/>
<rect x="468" y="486" width="7" height="1" fill="#000"/>
<rect x="475" y="471" width="4" height="17" fill="#000"/>
<rect x="479.5" y="476.5" width="9" height="9.5" fill="#fff" stroke="#000" stroke-width="1"/>
<rect x="486" y="472" width="1" height="5" fill="#000"/>
<rect x="481.5" y="476.5" width="5" height="2.5" fill="#fff" stroke="#000" stroke-width="1"/>
<rect x="482" y="476" width="4" height="1" fill="#fff"/>
<rect x="686" y="477.5" width="8" height="1" fill="#000"/>
<rect x="686" y="486" width="8" height="1" fill="#000"/>
<rect x="682" y="471" width="3.5" height="17" fill="#000"/>
<rect x="672.5" y="476.5" width="9" height="9.5" fill="#fff" stroke="#000" stroke-width="1"/>
<rect x="675" y="472" width="1" height="5" fill="#000"/>
<rect x="675.5" y="476.5" width="4" height="2.5" fill="#fff" stroke="#000" stroke-width="1"/>
<rect x="676" y="476" width="4" height="1" fill="#fff"/>
<rect x="493" y="473" width="175" height="14" fill="#000"/>
<rect x="496" y="480" width="4" height="6" fill="#fff"/>
<rect x="497" y="474" width="2" height="4" fill="#fff"/>
<rect x="502" y="480" width="4" height="6" fill="#fff"/>
<rect x="503" y="474" width="2" height="4" fill="#fff"/>
<rect x="508" y="480" width="4" height="6" fill="#fff"/>
<rect x="510" y="474" width="1" height="6" fill="#fff"/>
<rect x="514" y="480" width="4" height="6" fill="#fff"/>
<rect x="516" y="474" width="1" height="4" fill="#fff"/>
<rect x="520" y="480" width="4" height="6" fill="#fff"/>
<rect x="521" y="474" width="2" height="4" fill="#fff"/>
<rect x="525" y="480" width="4" height="6" fill="#fff"/>
<rect x="526" y="474" width="2" height="4" fill="#fff"/>
<rect x="531" y="480" width="4" height="6" fill="#fff"/>
<rect x="533" y="474" width="1" height="4" fill="#fff"/>
<rect x="537" y="480" width="4" height="6" fill="#fff"/>
<rect x="539" y="474" width="1" height="4" fill="#fff"/>
<rect x="543" y="480" width="4" height="6" fill="#fff"/>
<rect x="544" y="474" width="2" height="4" fill="#fff"/>
<rect x="549" y="480" width="4" height="6" fill="#fff"/>
<rect x="550" y="474" width="2" height="4" fill="#fff"/>
<rect x="555" y="480" width="4" height="6" fill="#fff"/>
<rect x="557" y="474" width="1" height="4" fill="#fff"/>
<rect x="561" y="480" width="4" height="6" fill="#fff"/>
<rect x="563" y="474" width="1" height="6" fill="#fff"/>
<rect x="567" y="480" width="4" height="6" fill="#fff"/>
<rect x="568" y="474" width="2" height="4" fill="#fff"/>
<rect x="573" y="480" width="4" height="6" fill="#fff"/>
<rect x="574" y="474" width="2" height="4" fill="#fff"/>
<rect x="578" y="480" width="4" height="6" fill="#fff"/>
<rect x="580" y="474" width="1" height="6" fill="#fff"/>
<rect x="584" y="480" width="4" height="6" fill="#fff"/>
<rect x="586" y="474" width="1" height="4" fill="#fff"/>
<rect x="590" y="480" width="4" height="6" fill="#fff"/>
<rect x="591" y="474" width="2" height="4" fill="#fff"/>
<rect x="596" y="480" width="4" height="6" fill="#fff"/>
<rect x="597" y="474" width="2" height="4" fill="#fff"/>
<rect x="602" y="480" width="4" height="6" fill="#fff"/>
<rect x="604" y="474" width="1" height="4" fill="#fff"/>
<rect x="608" y="480" width="4" height="6" fill="#fff"/>
<rect x="610" y="474" width="1" height="4" fill="#fff"/>
<rect x="614" y="480" width="4" height="6" fill="#fff"/>
<rect x="615" y="474" width="2" height="4" fill="#fff"/>
<rect x="620" y="480" width="4" height="6" fill="#fff"/>
<rect x="621" y="474" width="2" height="4" fill="#fff"/>
<rect x="626" y="480" width="4" height="6" fill="#fff"/>
<rect x="628" y="474" width="1" height="4" fill="#fff"/>
<rect x="632" y="480" width="4" height="6" fill="#fff"/>
<rect x="634" y="474" width="1" height="6" fill="#fff"/>
<rect x="637" y="480" width="4" height="6" fill="#fff"/>
<rect x="638" y="474" width="2" height="4" fill="#fff"/>
<rect x="643" y="480" width="4" height="6" fill="#fff"/>
<rect x="644" y="474" width="2" height="4" fill="#fff"/>
<rect x="649" y="480" width="4" height="6" fill="#fff"/>
<rect x="651" y="474" width="1" height="6" fill="#fff"/>
<rect x="655" y="480" width="4" height="6" fill="#fff"/>
<rect x="657" y="474" width="1" height="4" fill="#fff"/>
<rect x="661" y="480" width="4" height="6" fill="#fff"/>
<rect x="662" y="474" width="2" height="4" fill="#fff"/>
<rect x="468" y="489" width="227" height="2" fill="#000"/>
<rect x="468" y="496.5" width="7" height="1" fill="#000"/>
<rect x="468" y="505" width="7" height="1" fill="#000"/>
<rect x="475" y="490" width="4" height="17" fill="#000"/>
<rect x="479.5" y="495.5" width="9" height="9.5" fill="#fff" stroke="#000" stroke-width="1"/>
<rect x="486" y="491" width="1" height="5" fill="#000"/>
<rect x="481.5" y="495.5" width="5" height="2.5" fill="#fff" stroke="#000" stroke-width="1"/>
<rect x="482" y="495" width="4" height="1" fill="#fff"/>
<rect x="686" y="496.5" width="8" height="1" fill="#000"/>
<rect x="686" y="505" width="8" height="1" fill="#000"/>
<rect x="682" y="490" width="3.5" height="17" fill="#000"/>
<rect x="672.5" y="495.5" width="9" height="9.5" fill="#fff" stroke="#000" stroke-width="1"/>
<rect x="675" y="491" width="1" height="5" fill="#000"/>
<rect x="675.5" y="495.5" width="4" height="2.5" fill="#fff" stroke="#000" stroke-width="1"/>
<rect x="676" y="495" width="4" height="1" fill="#fff"/>
<rect x="493" y="492" width="175" height="14" fill="#000"/>
<rect x="496" y="499" width="4" height="6" fill="#fff"/>
<rect x="497" y="493" width="2" height="4" fill="#fff"/>
<rect x="502" y="499" width="4" height="6" fill="#fff"/>
<rect x="503" y="493" width="2" height="4" fill="#fff"/>
<rect x="508" y="499" width="4" height="6" fill="#fff"/>
<rect x="510" y="493" width="1" height="6" fill="#fff"/>
<rect x="514" y="499" width="4" height="6" fill="#fff"/>
<rect x="516" y="493" width="1" height="4" fill="#fff"/>
<rect x="520" y="499" width="4" height="6" fill="#fff"/>
<rect x="521" y="493" width="2" height="4" fill="#fff"/>
<rect x="525" y="499" width="4" height="6" fill="#fff"/>
<rect x="526" y="493" width="2" height="4" fill="#fff"/>
<rect x="531" y="499" width="4" height="6" fill="#fff"/>
<rect x="533" y="493" width="1" height="4" fill="#fff"/>
<rect x="537" y="499" width="4" height="6" fill="#fff"/>
<rect x="539" y="493" width="1" height="4" fill="#fff"/>
<rect x="543" y="499" width="4" height="6" fill="#fff"/>
<rect x="544" y="493" width="2" height="4" fill="#fff"/>
<rect x="549" y="499" width="4" height="6" fill="#fff"/>
<rect x="550" y="493" width="2" height="4" fill="#fff"/>
<rect x="555" y="499" width="4" height="6" fill="#fff"/>
<rect x="557" y="493" width="1" height="4" fill="#fff"/>
<rect x="561" y="499" width="4" height="6" fill="#fff"/>
<rect x="563" y="493" width="1" height="6" fill="#fff"/>
<rect x="567" y="499" width="4" height="6" fill="#fff"/>
<rect x="568" y="493" width="2" height="4" fill="#fff"/>
<rect x="573" y="499" width="4" height="6" fill="#fff"/>
<rect x="574" y="493" width="2" height="4" fill="#fff"/>
<rect x="578" y="499" width="4" height="6" fill="#fff"/>
<rect x="580" y="493" width="1" height="6" fill="#fff"/>
<rect x="584" y="499" width="4" height="6" fill="#fff"/>
<rect x="586" y="493" width="1" height="4" fill="#fff"/>
<rect x="590" y="499" width="4" height="6" fill="#fff"/>
<rect x="591" y="493" width="2" height="4" fill="#fff"/>
<rect x="596" y="499" width="4" height="6" fill="#fff"/>
<rect x="597" y="493" width="2" height="4" fill="#fff"/>
<rect x="602" y="499" width="4" height="6" fill="#fff"/>
<rect x="604" y="493" width="1" height="4" fill="#fff"/>
<rect x="608" y="499" width="4" height="6" fill="#fff"/>
<rect x="610" y="493" width="1" height="4" fill="#fff"/>
<rect x="614" y="499" width="4" height="6" fill="#fff"/>
<rect x="615" y="493" width="2" height="4" fill="#fff"/>
<rect x="620" y="499" width="4" height="6" fill="#fff"/>
<rect x="621" y="493" width="2" height="4" fill="#fff"/>
<rect x="626" y="499" width="4" height="6" fill="#fff"/>
<rect x="628" y="493" width="1" height="4" fill="#fff"/>
<rect x="632" y="499" width="4" height="6" fill="#fff"/>
<rect x="634" y="493" width="1" height="6" fill="#fff"/>
<rect x="637" y="499" width="4" height="6" fill="#fff"/>
<rect x="638" y="493" width="2" height="4" fill="#fff"/>
<rect x="643" y="499" width="4" height="6" fill="#fff"/>
<rect x="644" y="493" width="2" height="4" fill="#fff"/>
<rect x="649" y="499" width="4" height="6" fill="#fff"/>
<rect x="651" y="493" width="1" height="6" fill="#fff"/>
<rect x="655" y="499" width="4" height="6" fill="#fff"/>
<rect x="657" y="493" width="1" height="4" fill="#fff"/>
<rect x="661" y="499" width="4" height="6" fill="#fff"/>
<rect x="662" y="493" width="2" height="4" fill="#fff"/>
<rect x="551.5" y="377.7" width="59" height="16.6" rx="3" fill="#000" shape-rendering="geometricPrecision"/>
<rect x="553" y="379" width="56" height="14" rx="2" fill="#fff" shape-rendering="geometricPrecision"/>
<text transform="translate(555.7,390) scale(0.66,1)" font-size="13.9" text-anchor="start" fill="#000" stroke="#000" stroke-width="0.15" textLength="67.27" lengthAdjust="spacing">BANK 0</text>
<rect x="551.5" y="462.9" width="59.3" height="17.1" rx="3" fill="#000" shape-rendering="geometricPrecision"/>
<rect x="553" y="464.2" width="56.3" height="14.5" rx="2" fill="#fff" shape-rendering="geometricPrecision"/>
<text transform="translate(555.8,476) scale(0.66,1)" font-size="13.9" text-anchor="start" fill="#000" stroke="#000" stroke-width="0.15" textLength="67.88" lengthAdjust="spacing">BANK 1</text>
<rect x="702.5" y="380.5" width="23" height="111" fill="#fff" stroke="#000" stroke-width="1"/>
<rect x="705.5" y="385.5" width="7" height="7" fill="#fff" stroke="#000" stroke-width="1"/>
<rect x="714" y="382" width="2" height="7" fill="#000"/>
<rect x="719" y="390" width="2" height="1" fill="#000"/>
<rect x="720.5" y="382.5" width="2" height="5" fill="#fff" stroke="#000" stroke-width="1"/>
<rect x="705.5" y="395.5" width="7" height="7" fill="#fff" stroke="#000" stroke-width="1"/>
<rect x="714" y="392" width="2" height="7" fill="#000"/>
<rect x="719" y="400" width="2" height="1" fill="#000"/>
<rect x="720.5" y="392.5" width="2" height="5" fill="#fff" stroke="#000" stroke-width="1"/>
<rect x="705.5" y="404.5" width="7" height="7" fill="#fff" stroke="#000" stroke-width="1"/>
<rect x="714" y="401" width="2" height="7" fill="#000"/>
<rect x="719" y="410" width="2" height="1" fill="#000"/>
<rect x="720.5" y="402.5" width="2" height="5" fill="#fff" stroke="#000" stroke-width="1"/>
<rect x="705.5" y="414.5" width="7" height="7" fill="#fff" stroke="#000" stroke-width="1"/>
<rect x="714" y="411" width="2" height="7" fill="#000"/>
<rect x="719" y="419" width="2" height="1" fill="#000"/>
<rect x="720.5" y="411.5" width="2" height="5" fill="#fff" stroke="#000" stroke-width="1"/>
<rect x="705.5" y="423.5" width="7" height="7" fill="#fff" stroke="#000" stroke-width="1"/>
<rect x="714" y="420" width="2" height="7" fill="#000"/>
<rect x="719" y="429" width="2" height="1" fill="#000"/>
<rect x="720.5" y="421.5" width="2" height="5" fill="#fff" stroke="#000" stroke-width="1"/>
<rect x="705.5" y="433.5" width="7" height="7" fill="#fff" stroke="#000" stroke-width="1"/>
<rect x="714" y="430" width="2" height="7" fill="#000"/>
<rect x="719" y="438" width="2" height="1" fill="#000"/>
<rect x="720.5" y="430.5" width="2" height="5" fill="#fff" stroke="#000" stroke-width="1"/>
<rect x="705.5" y="443.5" width="7" height="7" fill="#fff" stroke="#000" stroke-width="1"/>
<rect x="714" y="440" width="2" height="7" fill="#000"/>
<rect x="719" y="448" width="2" height="1" fill="#000"/>
<rect x="720.5" y="440.5" width="2" height="5" fill="#fff" stroke="#000" stroke-width="1"/>
<rect x="705.5" y="452.5" width="7" height="7" fill="#fff" stroke="#000" stroke-width="1"/>
<rect x="714" y="449" width="2" height="7" fill="#000"/>
<rect x="719" y="458" width="2" height="1" fill="#000"/>
<rect x="720.5" y="450.5" width="2" height="5" fill="#fff" stroke="#000" stroke-width="1"/>
<rect x="705.5" y="462.5" width="7" height="7" fill="#fff" stroke="#000" stroke-width="1"/>
<rect x="714" y="459" width="2" height="7" fill="#000"/>
<rect x="719" y="467" width="2" height="1" fill="#000"/>
<rect x="720.5" y="459.5" width="2" height="5" fill="#fff" stroke="#000" stroke-width="1"/>
<rect x="705.5" y="471.5" width="7" height="7" fill="#fff" stroke="#000" stroke-width="1"/>
<rect x="714" y="468" width="2" height="7" fill="#000"/>
<rect x="719" y="477" width="2" height="1" fill="#000"/>
<rect x="720.5" y="469.5" width="2" height="5" fill="#fff" stroke="#000" stroke-width="1"/>
<rect x="705.5" y="481.5" width="7" height="7" fill="#fff" stroke="#000" stroke-width="1"/>
<rect x="714" y="478" width="2" height="7" fill="#000"/>
<rect x="719" y="486" width="2" height="1" fill="#000"/>
<rect x="720.5" y="478.5" width="2" height="5" fill="#fff" stroke="#000" stroke-width="1"/>
<rect x="714" y="487" width="2" height="4" fill="#000"/>
<rect x="719" y="381" width="1" height="110" fill="#000"/>
<rect x="706" y="381" width="2" height="1" fill="#000"/>
<rect x="710" y="381" width="2" height="1" fill="#000"/>
<rect x="706" y="490" width="2" height="1" fill="#000"/>
<rect x="710" y="490" width="2" height="1" fill="#000"/>
<defs><pattern id="dots" x="0" y="0" width="2" height="2" patternUnits="userSpaceOnUse"><rect x="0" y="0" width="1" height="1" fill="#000"/></pattern></defs>
<path d="M746.5 368.5 H769.5 L771.5 371 V377 L770.5 379 V385 L771.5 387 V392 L770.5 394 V399 L771.5 401 V406 L769.5 408.5 H746.5 L744.5 406 V401 L745.5 399 V394 L744.5 392 V387 L745.5 385 V379 L744.5 377 V371 Z" fill="#fff"/>
<path d="M746.5 368.5 H769.5 L771.5 371 V377 L770.5 379 V385 L771.5 387 V392 L770.5 394 V399 L771.5 401 V406 L769.5 408.5 H746.5 L744.5 406 V401 L745.5 399 V394 L744.5 392 V387 L745.5 385 V379 L744.5 377 V371 Z" fill="url(#dots)" stroke="#000" stroke-width="1" shape-rendering="geometricPrecision"/>
<rect x="752" y="432" width="24" height="37" fill="#000"/>
<rect x="776" y="427" width="3" height="47" fill="#000"/>
<rect x="779" y="425" width="4" height="51" fill="#000"/>
<rect x="745.5" y="440" width="4" height="8" fill="#fff" stroke="#000" stroke-width="1"/>
<rect x="749.5" y="438.5" width="3" height="10" fill="#fff" stroke="#000" stroke-width="1"/>
<rect x="745.5" y="453" width="4" height="8" fill="#fff" stroke="#000" stroke-width="1"/>
<rect x="749.5" y="451.5" width="3" height="10" fill="#fff" stroke="#000" stroke-width="1"/>
<polygon points="23.3,86 24.7758,94.3006 24.7507,102.659 27.2493,102.741 27.7742,94.3994 29.8,86" fill="#000" shape-rendering="geometricPrecision"/>
<rect x="14" y="68" width="26" height="19" rx="3.5" fill="#000" shape-rendering="geometricPrecision"/>
<rect x="16.8" y="69.8" width="21.2" height="15.2" rx="1.5" fill="#fff" shape-rendering="geometricPrecision"/>
<polygon points="24.9053,82.8017 24.8,86 26.352,92.012 28.3,86 28.4053,82.8017" fill="#fff" shape-rendering="geometricPrecision"/>
<text transform="translate(19,82) scale(0.66,1)" font-size="13.9" text-anchor="start" fill="#000" stroke="#000" stroke-width="0.15" textLength="16.82" lengthAdjust="spacing">J1</text>
<polygon points="206,64.5 203.026,58.2963 198.584,53.1511 200.416,51.4489 205.224,56.2537 211.5,60" fill="#000" shape-rendering="geometricPrecision"/>
<rect x="205" y="59" width="35" height="18.8" rx="3.5" fill="#000" shape-rendering="geometricPrecision"/>
<rect x="207.7" y="61" width="30.5" height="13.8" rx="1.5" fill="#fff" shape-rendering="geometricPrecision"/>
<polygon points="209.34,65.8938 207.161,63.5501 205.42,58.668 210.339,60.9499 212.518,63.2935" fill="#fff" shape-rendering="geometricPrecision"/>
<text transform="translate(209.8,75) scale(0.66,1)" font-size="13.9" text-anchor="start" fill="#000" stroke="#000" stroke-width="0.15" textLength="32.42" lengthAdjust="spacing">JP3</text>
<polygon points="207,123.7 200.005,125.725 193.004,125.95 192.996,128.45 199.995,128.725 207,130.8" fill="#000" shape-rendering="geometricPrecision"/>
<rect x="206.2" y="118" width="36.8" height="18.8" rx="3.5" fill="#000" shape-rendering="geometricPrecision"/>
<rect x="208.3" y="119.8" width="32.1" height="14.4" rx="1.5" fill="#fff" shape-rendering="geometricPrecision"/>
<polygon points="210.2,125.211 207,125.2 201.96,127.232 207,129.3 210.2,129.311" fill="#fff" shape-rendering="geometricPrecision"/>
<text transform="translate(211.9,132) scale(0.66,1)" font-size="13.9" text-anchor="start" fill="#000" stroke="#000" stroke-width="0.15" textLength="31.97" lengthAdjust="spacing">JP4</text>
<polygon points="52,185.7 43.6769,187.55 35.3225,187.65 35.2775,190.15 43.6231,190.55 52,192.7" fill="#000" shape-rendering="geometricPrecision"/>
<rect x="51" y="180" width="25.9" height="17.8" rx="3.5" fill="#000" shape-rendering="geometricPrecision"/>
<rect x="53" y="181.8" width="21" height="14.1" rx="1.5" fill="#fff" shape-rendering="geometricPrecision"/>
<polygon points="55.1995,187.257 52,187.2 45.988,189.092 52,191.2 55.1995,191.257" fill="#fff" shape-rendering="geometricPrecision"/>
<text transform="translate(56,194) scale(0.66,1)" font-size="13.9" text-anchor="start" fill="#000" stroke="#000" stroke-width="0.15" textLength="18.48" lengthAdjust="spacing">J2</text>
<polygon points="188.5,225.5 195.078,228.824 200.128,233.395 201.872,231.605 197.172,226.676 194,220.5" fill="#000" shape-rendering="geometricPrecision"/>
<rect x="159" y="208" width="36" height="18.8" rx="3.5" fill="#000" shape-rendering="geometricPrecision"/>
<rect x="161.9" y="209.9" width="31.3" height="14" rx="1.5" fill="#fff" shape-rendering="geometricPrecision"/>
<polygon points="187.318,222.258 189.61,224.491 194.76,226.42 192.89,221.509 190.598,219.276" fill="#fff" shape-rendering="geometricPrecision"/>
<text transform="translate(164.8,222) scale(0.66,1)" font-size="13.9" text-anchor="start" fill="#000" stroke="#000" stroke-width="0.15" textLength="36.97" lengthAdjust="spacing">RND</text>
<rect x="228.9" y="208.9" width="36.2" height="20.8" rx="3.5" fill="#fff" shape-rendering="geometricPrecision"/>
<polygon points="231,223.5 228.22,229.484 223.7,234.532 225.5,236.268 230.38,231.566 237,227.8" fill="#000" shape-rendering="geometricPrecision"/>
<rect x="230" y="210" width="34" height="18.6" rx="3.5" fill="#000" shape-rendering="geometricPrecision"/>
<rect x="231.9" y="212.4" width="31.1" height="14.4" rx="1.5" fill="#fff" shape-rendering="geometricPrecision"/>
<polygon points="234.44,222.07 232.219,224.374 230.616,229.16 235.781,226.926 238.002,224.623" fill="#fff" shape-rendering="geometricPrecision"/>
<text transform="translate(234.9,224) scale(0.66,1)" font-size="13.9" text-anchor="start" fill="#000" stroke="#000" stroke-width="0.15" textLength="36.97" lengthAdjust="spacing">RNF</text>
<polygon points="217,308 214.134,301.705 209.512,296.679 211.288,294.921 216.266,299.595 223,303" fill="#000" shape-rendering="geometricPrecision"/>
<rect x="216.1" y="302" width="34.9" height="18.8" rx="3.5" fill="#000" shape-rendering="geometricPrecision"/>
<rect x="219" y="304.8" width="30.1" height="14.2" rx="1.5" fill="#fff" shape-rendering="geometricPrecision"/>
<polygon points="220.403,309.314 218.152,307.04 216.544,302.008 221.848,303.96 224.099,306.235" fill="#fff" shape-rendering="geometricPrecision"/>
<text transform="translate(222,316) scale(0.66,1)" font-size="13.9" text-anchor="start" fill="#000" stroke="#000" stroke-width="0.15" textLength="35.00" lengthAdjust="spacing">RNE</text>
<polygon points="30.8,252 32.3502,260.373 32.4502,268.778 34.9498,268.822 35.3498,260.427 37.2,252" fill="#000" shape-rendering="geometricPrecision"/>
<rect x="15" y="234" width="39" height="18.9" rx="3.5" fill="#000" shape-rendering="geometricPrecision"/>
<rect x="17" y="235.9" width="34.4" height="15.1" rx="1.5" fill="#fff" shape-rendering="geometricPrecision"/>
<polygon points="32.3571,248.801 32.3,252 33.892,258.048 35.7,252 35.7571,248.801" fill="#fff" shape-rendering="geometricPrecision"/>
<text transform="translate(21.9,248) scale(0.66,1)" font-size="13.9" text-anchor="start" fill="#000" stroke="#000" stroke-width="0.15" textLength="36.67" lengthAdjust="spacing">RNA</text>
<rect x="58" y="241.9" width="36.1" height="20.3" rx="3.5" fill="#fff" shape-rendering="geometricPrecision"/>
<polygon points="60,256 57.2401,261.466 52.6584,265.976 54.3416,267.824 59.2599,263.684 66,260.5" fill="#000" shape-rendering="geometricPrecision"/>
<rect x="59.1" y="243" width="33.9" height="18.1" rx="3.5" fill="#000" shape-rendering="geometricPrecision"/>
<rect x="61.7" y="245.6" width="30.2" height="13.4" rx="1.5" fill="#fff" shape-rendering="geometricPrecision"/>
<polygon points="63.5661,254.746 61.2,256.9 59.58,261.364 64.8,259.6 67.1661,257.446" fill="#fff" shape-rendering="geometricPrecision"/>
<text transform="translate(64,257) scale(0.66,1)" font-size="13.9" text-anchor="start" fill="#000" stroke="#000" stroke-width="0.15" textLength="35.15" lengthAdjust="spacing">RNC</text>
<polygon points="50,328 47.0448,321.741 42.5999,316.767 44.4001,315.033 49.2052,319.659 55.5,323" fill="#000" shape-rendering="geometricPrecision"/>
<rect x="49.1" y="322" width="33.8" height="18.8" rx="3.5" fill="#000" shape-rendering="geometricPrecision"/>
<rect x="51" y="323.9" width="29.9" height="14.1" rx="1.5" fill="#fff" shape-rendering="geometricPrecision"/>
<polygon points="53.3303,329.295 51.1099,326.991 49.42,322.044 54.3901,324.009 56.6104,326.313" fill="#fff" shape-rendering="geometricPrecision"/>
<text transform="translate(54,335) scale(0.66,1)" font-size="13.9" text-anchor="start" fill="#000" stroke="#000" stroke-width="0.15" textLength="35.15" lengthAdjust="spacing">RNB</text>
<polygon points="281,296.5 277.855,290.824 273.15,286.116 274.85,284.284 279.895,288.626 286.5,292" fill="#000" shape-rendering="geometricPrecision"/>
<rect x="280" y="291" width="34.9" height="18.8" rx="3.5" fill="#000" shape-rendering="geometricPrecision"/>
<rect x="281.9" y="292.9" width="30.2" height="15" rx="1.5" fill="#fff" shape-rendering="geometricPrecision"/>
<polygon points="284.506,297.727 282.161,295.55 280.24,290.992 285.339,292.95 287.684,295.127" fill="#fff" shape-rendering="geometricPrecision"/>
<text transform="translate(284.9,305) scale(0.66,1)" font-size="13.9" text-anchor="start" fill="#000" stroke="#000" stroke-width="0.15" textLength="32.58" lengthAdjust="spacing">JP2</text>
<polygon points="716,252 723.014,255.16 728.236,259.804 729.964,257.996 725.086,252.99 722,246.5" fill="#000" shape-rendering="geometricPrecision"/>
<rect x="688.2" y="234" width="34.8" height="19" rx="3.5" fill="#000" shape-rendering="geometricPrecision"/>
<rect x="690" y="235.9" width="30.1" height="15.1" rx="1.5" fill="#fff" shape-rendering="geometricPrecision"/>
<polygon points="714.792,248.776 717.106,250.986 722.636,252.724 720.894,247.514 718.581,245.303" fill="#fff" shape-rendering="geometricPrecision"/>
<text transform="translate(693,248) scale(0.66,1)" font-size="13.9" text-anchor="start" fill="#000" stroke="#000" stroke-width="0.15" textLength="30.30" lengthAdjust="spacing">JP1</text>
<polygon points="722,348 730.028,350.15 738.023,350.55 737.977,353.05 729.972,353.15 722,355" fill="#000" shape-rendering="geometricPrecision"/>
<rect x="697" y="342" width="26" height="18.8" rx="3.5" fill="#000" shape-rendering="geometricPrecision"/>
<rect x="699.8" y="344.9" width="21.2" height="14" rx="1.5" fill="#fff" shape-rendering="geometricPrecision"/>
<polygon points="718.801,349.44 722,349.5 727.76,351.608 722,353.5 718.801,353.44" fill="#fff" shape-rendering="geometricPrecision"/>
<text transform="translate(703,357) scale(0.66,1)" font-size="13.9" text-anchor="start" fill="#000" stroke="#000" stroke-width="0.15" textLength="18.03" lengthAdjust="spacing">J4</text>
<rect x="205" y="453.2" width="51.2" height="18.7" rx="3.5" fill="#000" shape-rendering="geometricPrecision"/>
<rect x="208" y="456" width="46" height="13.9" rx="1.5" fill="#fff" shape-rendering="geometricPrecision"/>
<text transform="translate(208.8,467) scale(0.66,1)" font-size="13.9" text-anchor="start" fill="#000" stroke="#000" stroke-width="0.15" textLength="64.70" lengthAdjust="spacing">CACHE</text>
</svg>
</body>
</html>
